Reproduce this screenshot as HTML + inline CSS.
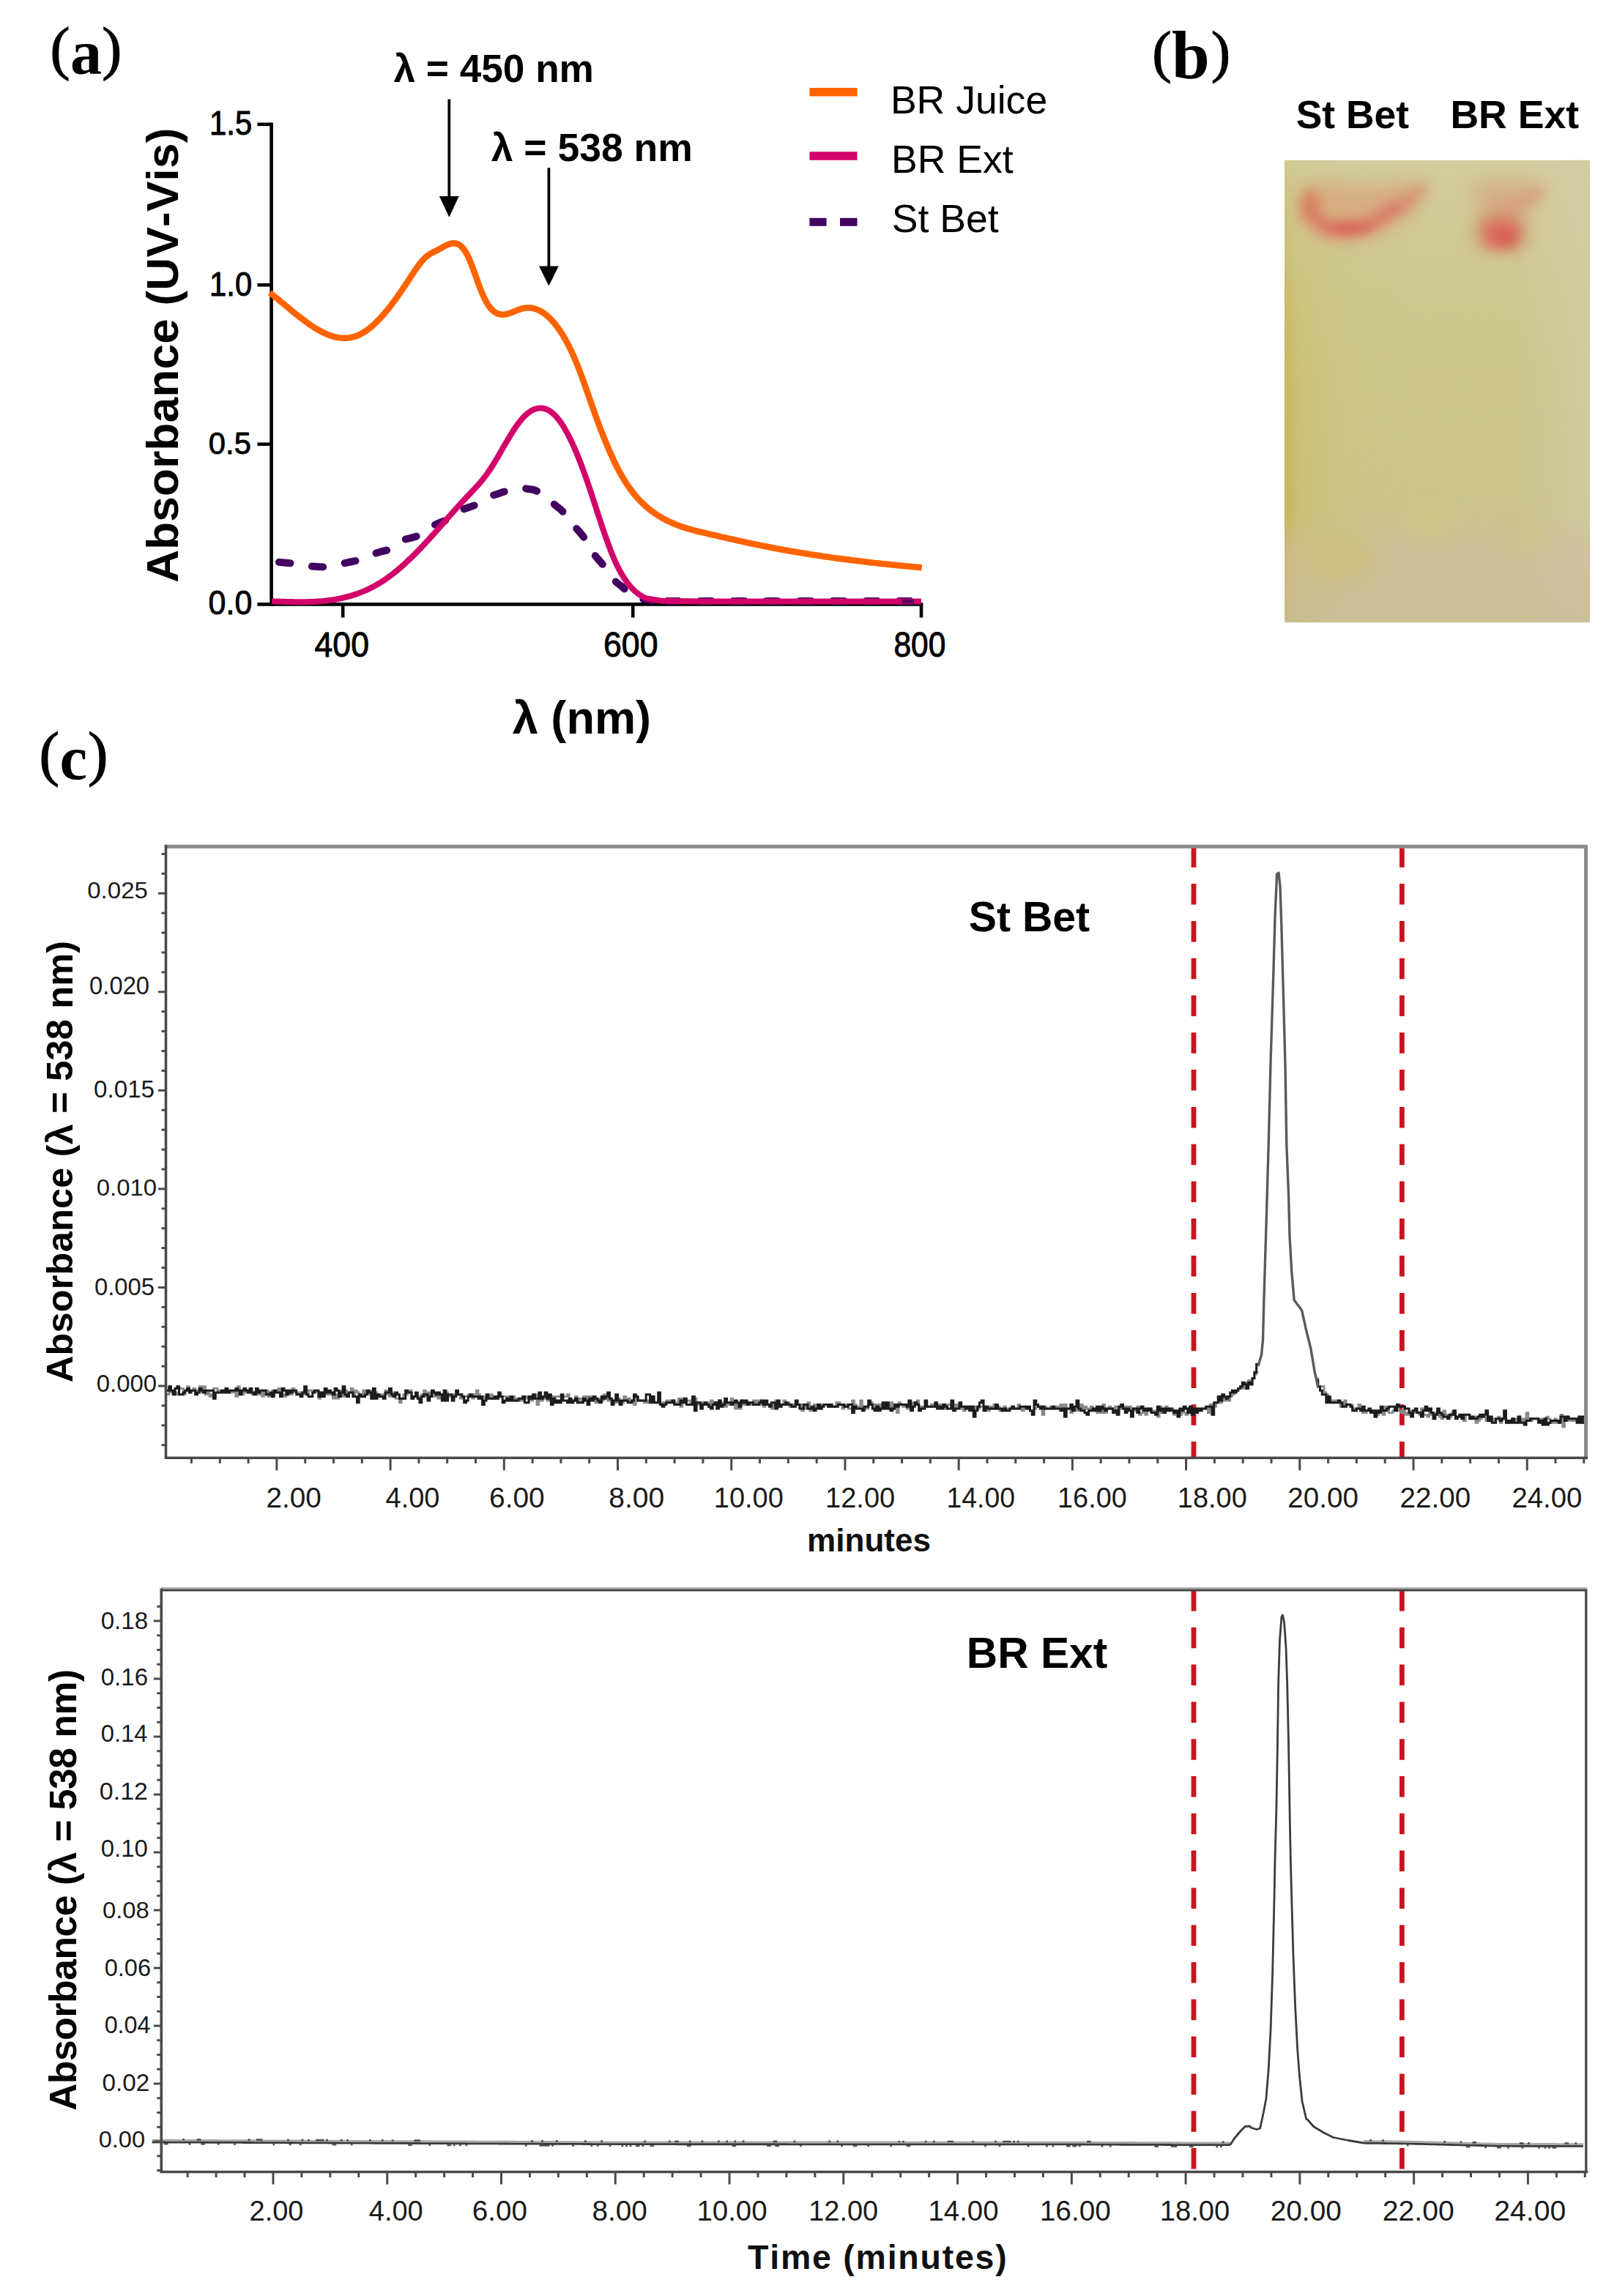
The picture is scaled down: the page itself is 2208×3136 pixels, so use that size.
<!DOCTYPE html>
<html><head><meta charset="utf-8"><title>Figure</title>
<style>
html,body{margin:0;padding:0;background:#fff;}
body{width:2208px;height:3136px;overflow:hidden;}
svg{display:block;font-kerning:none;}
text{font-kerning:none;}
</style></head>
<body>
<svg width="2208" height="3136" viewBox="0 0 2208 3136">
<rect width="2208" height="3136" fill="#fff"/>
<g id="panelA">
<text x="68.51" y="93.02" font-family="'Liberation Serif', 'Times New Roman', serif" font-weight="normal" font-size="81.17" fill="#000" stroke="#000" stroke-width="1.2">(</text>
<text x="96.07" y="100.7" font-family="'Liberation Serif', 'Times New Roman', serif" font-weight="bold" font-size="86.19" fill="#000">a</text>
<text x="139.31" y="93.02" font-family="'Liberation Serif', 'Times New Roman', serif" font-weight="normal" font-size="81.17" fill="#000" stroke="#000" stroke-width="1.2">)</text>
<g stroke="#000" stroke-width="4.6" fill="none" stroke-linecap="butt">
<path d="M370.6,167.5 V827.7"/>
<path d="M351.5,825.4 H1260.3"/>
<path d="M351.5,169.8 H370"/>
<path d="M351.5,389.2 H370"/>
<path d="M351.5,606.7 H370"/>
<path d="M468.2,825 V843.5"/>
<path d="M864.2,825 V843.5"/>
<path d="M1258,825 V843.5"/>
</g>
<path d="M372,767 C375.17,767.28 385.73,768.2 391,768.7 C396.27,769.2 398.57,769.28 403.6,770 C408.63,770.72 416.13,772.33 421.2,773 C426.27,773.67 429.67,773.83 434,774 C438.33,774.17 441.9,774.62 447.2,774 C452.5,773.38 460.67,771.38 465.8,770.3 C470.93,769.22 473.83,768.43 478,767.5 C482.17,766.57 485.73,766.4 490.8,764.7 C495.87,763 503.53,759.17 508.4,757.3 C513.27,755.43 515.98,754.73 520,753.5 C524.02,752.27 527.78,752.37 532.5,749.9 C537.22,747.43 543.72,741.18 548.3,738.7 C552.88,736.22 556.13,736.23 560,735 C563.87,733.77 566.65,733.92 571.5,731.3 C576.35,728.68 584.35,722.18 589.1,719.3 C593.85,716.42 596.13,715.7 600,714 C603.87,712.3 607.42,711.85 612.3,709.1 C617.18,706.35 624.68,700.18 629.3,697.5 C633.92,694.82 636.43,694.42 640,693 C643.57,691.58 645.93,691.43 650.7,689 C655.47,686.57 663.72,680.82 668.6,678.4 C673.48,675.98 676.28,675.73 680,674.5 C683.72,673.27 685.68,672.2 690.9,671 C696.12,669.8 706.12,667.8 711.3,667.3 C716.48,666.8 718.28,667.38 722,668 C725.72,668.62 728.77,668.33 733.6,671 C738.43,673.67 746.6,680.58 751,684 C755.4,687.42 757,688.95 760,691.5 C763,694.05 765,694.88 769,699.3 C773,703.72 779.17,712.05 784,718 C788.83,723.95 793.55,728.63 798,735 C802.45,741.37 807.28,751.08 810.7,756.2 C814.12,761.32 815.88,762.53 818.5,765.7 C821.12,768.87 822.93,770.67 826.4,775.2 C829.87,779.73 835.53,788.6 839.3,792.9 C843.07,797.2 845.82,798.27 849,801 C852.18,803.73 854.57,806.72 858.4,809.3 C862.23,811.88 866.73,814.72 872,816.5 C877.27,818.28 882,819.25 890,820 C898,820.75 858.67,820.83 920,821 C981.33,821.17 1201.67,821 1258,821" fill="none" stroke="#42005F" stroke-width="10" stroke-dasharray="15.5 29.7" stroke-dashoffset="36.2" stroke-linecap="round"/>
<path d="M371.1,821.25 L373.1,821.31 L375.1,821.38 L377.1,821.45 L379.1,821.51 L381.1,821.58 L383.1,821.65 L385.1,821.71 L387.1,821.78 L389.1,821.84 L391.1,821.9 L393.1,821.95 L395.1,822 L397.1,822.05 L399.1,822.09 L401.1,822.13 L403.1,822.16 L405.1,822.19 L407.1,822.21 L409.1,822.22 L411.1,822.22 L413.1,822.21 L415.1,822.2 L417.1,822.18 L419.1,822.14 L421.1,822.1 L423.1,822.04 L425.1,821.97 L427.1,821.89 L429.1,821.8 L431.1,821.69 L433.1,821.57 L435.1,821.44 L437.1,821.29 L439.1,821.13 L441.1,820.95 L443.1,820.75 L445.1,820.54 L447.1,820.31 L449.1,820.06 L451.1,819.79 L453.1,819.5 L455.1,819.2 L457.1,818.87 L459.1,818.52 L461.1,818.16 L463.1,817.77 L465.1,817.36 L467.1,816.92 L469.1,816.46 L471.1,815.98 L473.1,815.48 L475.1,814.94 L477.1,814.39 L479.1,813.81 L481.1,813.2 L483.1,812.56 L485.1,811.9 L487.1,811.21 L489.1,810.49 L491.1,809.74 L493.1,808.96 L495.1,808.15 L497.1,807.32 L499.1,806.45 L501.1,805.54 L503.1,804.61 L505.1,803.64 L507.1,802.64 L509.1,801.61 L511.1,800.54 L513.1,799.44 L515.1,798.3 L517.1,797.12 L519.1,795.91 L521.1,794.67 L523.1,793.38 L525.1,792.06 L527.1,790.69 L529.1,789.29 L531.1,787.85 L533.1,786.37 L535.1,784.86 L537.1,783.3 L539.1,781.71 L541.1,780.08 L543.1,778.42 L545.1,776.73 L547.1,775 L549.1,773.24 L551.1,771.45 L553.1,769.63 L555.1,767.78 L557.1,765.91 L559.1,764 L561.1,762.07 L563.1,760.12 L565.1,758.14 L567.1,756.13 L569.1,754.11 L571.1,752.06 L573.1,749.99 L575.1,747.9 L577.1,745.79 L579.1,743.67 L581.1,741.52 L583.1,739.36 L585.1,737.19 L587.1,735 L589.1,732.79 L591.1,730.58 L593.1,728.35 L595.1,726.11 L597.1,723.86 L599.1,721.6 L601.1,719.34 L603.1,717.06 L605.1,714.78 L607.1,712.5 L609.1,710.21 L611.1,707.92 L613.1,705.64 L615.1,703.35 L617.1,701.08 L619.1,698.81 L621.1,696.55 L623.1,694.31 L625.1,692.08 L627.1,689.87 L629.1,687.67 L631.1,685.5 L633.1,683.35 L635.1,681.22 L637.1,679.12 L639.1,677.04 L641.1,674.96 L643.1,672.87 L645.1,670.78 L647.1,668.66 L649.1,666.51 L651.1,664.32 L653.1,662.08 L655.1,659.79 L657.1,657.42 L659.1,654.98 L661.1,652.45 L663.1,649.82 L665.1,647.09 L667.1,644.24 L669.1,641.28 L671.1,638.21 L673.1,635.04 L675.1,631.79 L677.1,628.47 L679.1,625.1 L681.1,621.69 L683.1,618.24 L685.1,614.78 L687.1,611.31 L689.1,607.85 L691.1,604.42 L693.1,601.02 L695.1,597.66 L697.1,594.37 L699.1,591.16 L701.1,588.02 L703.1,584.99 L705.1,582.08 L707.1,579.28 L709.1,576.63 L711.1,574.13 L713.1,571.79 L715.1,569.62 L717.1,567.62 L719.1,565.79 L721.1,564.13 L723.1,562.65 L725.1,561.35 L727.1,560.23 L729.1,559.3 L731.1,558.55 L733.1,557.98 L735.1,557.61 L737.1,557.42 L739.1,557.43 L741.1,557.64 L743.1,558.04 L745.1,558.64 L747.1,559.44 L749.1,560.45 L751.1,561.67 L753.1,563.09 L755.1,564.72 L757.1,566.57 L759.1,568.63 L761.1,570.91 L763.1,573.4 L765.1,576.1 L767.1,579 L769.1,582.11 L771.1,585.41 L773.1,588.9 L775.1,592.58 L777.1,596.44 L779.1,600.47 L781.1,604.68 L783.1,609.06 L785.1,613.6 L787.1,618.3 L789.1,623.15 L791.1,628.16 L793.1,633.31 L795.1,638.6 L797.1,644.02 L799.1,649.58 L801.1,655.26 L803.1,661.06 L805.1,666.97 L807.1,672.97 L809.1,679.04 L811.1,685.18 L813.1,691.36 L815.1,697.55 L817.1,703.72 L819.1,709.85 L821.1,715.92 L823.1,721.91 L825.1,727.8 L827.1,733.57 L829.1,739.21 L831.1,744.69 L833.1,749.99 L835.1,755.09 L837.1,759.98 L839.1,764.64 L841.1,769.05 L843.1,773.23 L845.1,777.18 L847.1,780.92 L849.1,784.43 L851.1,787.74 L853.1,790.85 L855.1,793.76 L857.1,796.48 L859.1,799.02 L861.1,801.38 L863.1,803.57 L865.1,805.6 L867.1,807.47 L869.1,809.18 L871.1,810.76 L873.1,812.19 L875.1,813.49 L877.1,814.67 L879.1,815.73 L881.1,816.67 L882.9,817.43 L903.3,820.8 L960,821.5 L1258,821.5" fill="none" stroke="#D2036B" stroke-width="8" stroke-linejoin="round"/>
<path d="M1232,821.5 H1257" fill="none" stroke="#42005F" stroke-width="6" stroke-dasharray="16 12" opacity="0.8"/>
<path d="M368.3,399.76 L370.3,401.32 L372.3,402.9 L374.3,404.5 L376.3,406.12 L378.3,407.75 L380.3,409.39 L382.3,411.04 L384.3,412.69 L386.3,414.35 L388.3,416.01 L390.3,417.68 L392.3,419.34 L394.3,421 L396.3,422.66 L398.3,424.3 L400.3,425.94 L402.3,427.57 L404.3,429.18 L406.3,430.78 L408.3,432.36 L410.3,433.93 L412.3,435.47 L414.3,436.99 L416.3,438.48 L418.3,439.94 L420.3,441.38 L422.3,442.78 L424.3,444.15 L426.3,445.49 L428.3,446.78 L430.3,448.04 L432.3,449.26 L434.3,450.43 L436.3,451.56 L438.3,452.64 L440.3,453.67 L442.3,454.64 L444.3,455.57 L446.3,456.44 L448.3,457.25 L450.3,458 L452.3,458.69 L454.3,459.31 L456.3,459.87 L458.3,460.36 L460.3,460.78 L462.3,461.13 L464.3,461.41 L466.3,461.61 L468.3,461.73 L470.3,461.77 L472.3,461.73 L474.3,461.61 L476.3,461.4 L478.3,461.1 L480.3,460.71 L482.3,460.23 L484.3,459.65 L486.3,458.98 L488.3,458.21 L490.3,457.34 L492.3,456.37 L494.3,455.3 L496.3,454.13 L498.3,452.87 L500.3,451.52 L502.3,450.07 L504.3,448.54 L506.3,446.92 L508.3,445.22 L510.3,443.43 L512.3,441.57 L514.3,439.63 L516.3,437.62 L518.3,435.53 L520.3,433.37 L522.3,431.15 L524.3,428.86 L526.3,426.5 L528.3,424.09 L530.3,421.61 L532.3,419.08 L534.3,416.49 L536.3,413.86 L538.3,411.17 L540.3,408.43 L542.3,405.65 L544.3,402.82 L546.3,399.96 L548.3,397.05 L550.3,394.11 L552.3,391.13 L554.3,388.12 L556.3,385.08 L558.3,382.02 L560.3,378.94 L562.3,375.88 L564.3,372.84 L566.3,369.86 L568.3,366.95 L570.3,364.13 L572.3,361.43 L574.3,358.87 L576.3,356.46 L578.3,354.23 L580.3,352.2 L582.3,350.39 L584.3,348.81 L586.3,347.44 L588.3,346.23 L590.3,345.14 L592.3,344.13 L594.3,343.15 L596.3,342.16 L598.3,341.11 L600.3,340.01 L602.3,338.86 L604.3,337.71 L606.3,336.59 L608.3,335.53 L610.3,334.57 L612.3,333.72 L614.3,333.04 L616.3,332.54 L618.3,332.26 L620.3,332.23 L622.3,332.49 L624.3,333.06 L626.3,333.98 L628.3,335.29 L630.3,337 L632.3,339.15 L634.3,341.79 L636.3,344.93 L638.3,348.6 L640.3,352.83 L642.3,357.54 L644.3,362.61 L646.3,367.97 L648.3,373.5 L650.3,379.11 L652.3,384.71 L654.3,390.19 L656.3,395.46 L658.3,400.41 L660.3,404.97 L662.3,409.1 L664.3,412.82 L666.3,416.12 L668.3,419.01 L670.3,421.5 L672.3,423.6 L674.3,425.36 L676.3,426.78 L678.3,427.88 L680.3,428.71 L682.3,429.26 L684.3,429.58 L686.3,429.68 L688.3,429.59 L690.3,429.32 L692.3,428.91 L694.3,428.37 L696.3,427.73 L698.3,427.01 L700.3,426.23 L702.3,425.42 L704.3,424.6 L706.3,423.8 L708.3,423.03 L710.3,422.33 L712.3,421.7 L714.3,421.18 L716.3,420.79 L718.3,420.53 L720.3,420.39 L722.3,420.39 L724.3,420.51 L726.3,420.77 L728.3,421.15 L730.3,421.67 L732.3,422.32 L734.3,423.11 L736.3,424.02 L738.3,425.08 L740.3,426.26 L742.3,427.58 L744.3,429.04 L746.3,430.63 L748.3,432.36 L750.3,434.22 L752.3,436.22 L754.3,438.37 L756.3,440.65 L758.3,443.07 L760.3,445.65 L762.3,448.37 L764.3,451.24 L766.3,454.27 L768.3,457.45 L770.3,460.79 L772.3,464.3 L774.3,467.96 L776.3,471.8 L778.3,475.8 L780.3,479.97 L782.3,484.32 L784.3,488.84 L786.3,493.54 L788.3,498.42 L790.3,503.48 L792.3,508.7 L794.3,514.07 L796.3,519.55 L798.3,525.13 L800.3,530.78 L802.3,536.49 L804.3,542.22 L806.3,547.96 L808.3,553.69 L810.3,559.38 L812.3,565.02 L814.3,570.57 L816.3,576.03 L818.3,581.39 L820.3,586.66 L822.3,591.82 L824.3,596.88 L826.3,601.83 L828.3,606.68 L830.3,611.41 L832.3,616.03 L834.3,620.54 L836.3,624.92 L838.3,629.19 L840.3,633.33 L842.3,637.34 L844.3,641.23 L846.3,644.99 L848.3,648.61 L850.3,652.09 L852.3,655.44 L854.3,658.66 L856.3,661.74 L858.3,664.7 L860.3,667.53 L862.3,670.25 L864.3,672.85 L866.3,675.35 L868.3,677.74 L870.3,680.02 L872.3,682.22 L874.3,684.32 L876.3,686.33 L878.3,688.26 L880.3,690.11 L882.3,691.88 L884.3,693.59 L886.3,695.22 L888.3,696.8 L890.3,698.32 L892.3,699.78 L894.3,701.19 L896.3,702.55 L898.3,703.85 L900.3,705.11 L902.3,706.32 L904.3,707.49 L906.3,708.61 L908.3,709.69 L910.3,710.73 L912.3,711.72 L914.3,712.68 L916.3,713.6 L918.3,714.49 L920.3,715.34 L922.3,716.16 L924.3,716.95 L926.3,717.71 L928.3,718.44 L930.3,719.14 L932.3,719.82 L934.3,720.48 L936.3,721.11 L938.3,721.72 L940.3,722.31 L942.3,722.88 L944.3,723.44 L946.3,723.98 L948.3,724.51 L950.3,725.03 L952.3,725.53 L954.3,726.03 L956.3,726.51 L958.3,727 L960.3,727.47 L962.3,727.95 L964.3,728.42 L966.3,728.89 L968.3,729.36 L970.3,729.83 L972.3,730.3 L974.3,730.76 L976.3,731.23 L978.3,731.69 L980.3,732.16 L982.3,732.62 L984.3,733.08 L986.3,733.54 L988.3,734 L990.3,734.46 L992.3,734.91 L994.3,735.37 L996.3,735.82 L998.3,736.27 L1000.3,736.72 L1002.3,737.17 L1004.3,737.61 L1006.3,738.06 L1008.3,738.5 L1010.3,738.94 L1012.3,739.38 L1014.3,739.82 L1016.3,740.25 L1018.3,740.68 L1020.3,741.12 L1022.3,741.54 L1024.3,741.97 L1026.3,742.39 L1028.3,742.82 L1030.3,743.24 L1032.3,743.65 L1034.3,744.07 L1036.3,744.48 L1038.3,744.89 L1040.3,745.3 L1042.3,745.7 L1044.3,746.1 L1046.3,746.5 L1048.3,746.9 L1050.3,747.29 L1052.3,747.68 L1054.3,748.07 L1056.3,748.45 L1058.3,748.83 L1060.3,749.21 L1062.3,749.59 L1064.3,749.96 L1066.3,750.33 L1068.3,750.7 L1070.3,751.06 L1072.3,751.43 L1074.3,751.78 L1076.3,752.14 L1078.3,752.49 L1080.3,752.84 L1082.3,753.19 L1084.3,753.54 L1086.3,753.88 L1088.3,754.22 L1090.3,754.56 L1092.3,754.89 L1094.3,755.22 L1096.3,755.55 L1098.3,755.88 L1100.3,756.21 L1102.3,756.53 L1104.3,756.85 L1106.3,757.16 L1108.3,757.48 L1110.3,757.79 L1112.3,758.1 L1114.3,758.41 L1116.3,758.71 L1118.3,759.01 L1120.3,759.31 L1122.3,759.61 L1124.3,759.9 L1126.3,760.2 L1128.3,760.49 L1130.3,760.78 L1132.3,761.06 L1134.3,761.34 L1136.3,761.63 L1138.3,761.9 L1140.3,762.18 L1142.3,762.46 L1144.3,762.73 L1146.3,763 L1148.3,763.27 L1150.3,763.53 L1152.3,763.8 L1154.3,764.06 L1156.3,764.32 L1158.3,764.57 L1160.3,764.83 L1162.3,765.08 L1164.3,765.34 L1166.3,765.58 L1168.3,765.83 L1170.3,766.08 L1172.3,766.32 L1174.3,766.56 L1176.3,766.8 L1178.3,767.04 L1180.3,767.28 L1182.3,767.51 L1184.3,767.74 L1186.3,767.97 L1188.3,768.2 L1190.3,768.43 L1192.3,768.65 L1194.3,768.88 L1196.3,769.1 L1198.3,769.32 L1200.3,769.54 L1202.3,769.75 L1204.3,769.97 L1206.3,770.18 L1208.3,770.39 L1210.3,770.6 L1212.3,770.81 L1214.3,771.02 L1216.3,771.22 L1218.3,771.42 L1220.3,771.63 L1222.3,771.83 L1224.3,772.02 L1226.3,772.22 L1228.3,772.42 L1230.3,772.61 L1232.3,772.81 L1234.3,773 L1236.3,773.19 L1238.3,773.38 L1240.3,773.56 L1242.3,773.75 L1244.3,773.93 L1246.3,774.12 L1248.3,774.3 L1250.3,774.48 L1252.3,774.66 L1254.3,774.84 L1256.3,775.01 L1258.3,775.19 L1258.8,775.23" fill="none" stroke="#FF6300" stroke-width="8.5" stroke-linejoin="round"/>
<g fill="#000" stroke="none">
<rect x="611.4" y="135.6" width="3.8" height="135"/>
<path d="M599.9,268 L626.7,268 L613.3,296.7 Z"/>
<rect x="747.5" y="229.3" width="3.8" height="136"/>
<path d="M736,363.4 L762.8,363.4 L749.4,390.6 Z"/>
</g>
<text x="537.47" y="111.64" font-family="'Liberation Sans', Arial, sans-serif" font-weight="bold" font-size="53.18" fill="#000">λ = 450 nm</text>
<text x="670.76" y="219.58" font-family="'Liberation Sans', Arial, sans-serif" font-weight="bold" font-size="53.51" fill="#000">λ = 538 nm</text>
<path d="M1105.4,125.7 H1170.5" stroke="#FF6300" stroke-width="11.5"/>
<path d="M1105.4,212.9 H1170.5" stroke="#D2036B" stroke-width="11.5"/>
<path d="M1105.4,303.2 H1128.6 M1147,303.2 H1170.5" stroke="#42005F" stroke-width="11"/>
<text x="1215.91" y="154.6" font-family="'Liberation Sans', Arial, sans-serif" font-weight="normal" font-size="53.55" fill="#000">BR Juice</text>
<text x="1217.11" y="236.2" font-family="'Liberation Sans', Arial, sans-serif" font-weight="normal" font-size="53.55" fill="#000">BR Ext</text>
<text x="1217.87" y="316.8" font-family="'Liberation Sans', Arial, sans-serif" font-weight="normal" font-size="53.55" fill="#000">St Bet</text>
<text transform="translate(286.11,183.95) scale(1,1.1034)" font-family="'Liberation Sans', Arial, sans-serif" font-weight="normal" font-size="41.82" fill="#000" stroke="#000" stroke-width="0.9">1.5</text>
<text transform="translate(286.12,403.55) scale(1,1.0933)" font-family="'Liberation Sans', Arial, sans-serif" font-weight="normal" font-size="41.73" fill="#000" stroke="#000" stroke-width="0.9">1.0</text>
<text transform="translate(284.87,620.28) scale(1,1.0328)" font-family="'Liberation Sans', Arial, sans-serif" font-weight="normal" font-size="41.71" fill="#000" stroke="#000" stroke-width="0.9">0.5</text>
<text transform="translate(284.62,838.75) scale(1,1.0645)" font-family="'Liberation Sans', Arial, sans-serif" font-weight="normal" font-size="42.99" fill="#000" stroke="#000" stroke-width="0.9">0.0</text>
<text transform="translate(429.58,897.23) scale(1,1.0743)" font-family="'Liberation Sans', Arial, sans-serif" font-weight="normal" font-size="44.57" fill="#000" stroke="#000" stroke-width="0.9">400</text>
<text transform="translate(824.04,897.23) scale(1,1.0737)" font-family="'Liberation Sans', Arial, sans-serif" font-weight="normal" font-size="44.6" fill="#000" stroke="#000" stroke-width="0.9">600</text>
<text transform="translate(1220.45,897.23) scale(1,1.1266)" font-family="'Liberation Sans', Arial, sans-serif" font-weight="normal" font-size="42.5" fill="#000" stroke="#000" stroke-width="0.9">800</text>
<text transform="translate(242.5,794.3) rotate(-90)" x="-1.54" y="0" font-family="'Liberation Sans', Arial, sans-serif" font-weight="bold" font-size="62" letter-spacing="0.25" fill="#000">Absorbance (UV-Vis)</text>
<text x="699.72" y="1001.64" font-family="'Liberation Sans', Arial, sans-serif" font-weight="bold" font-size="63.14" fill="#000">λ (nm)</text>
</g>
<g id="panelB">
<text x="1573.18" y="97.12" font-family="'Liberation Serif', 'Times New Roman', serif" font-weight="normal" font-size="79.3" fill="#000" stroke="#000" stroke-width="1.2">(</text>
<text x="1599.89" y="106.71" font-family="'Liberation Serif', 'Times New Roman', serif" font-weight="bold" font-size="93.16" fill="#000">b</text>
<text x="1653.71" y="97.12" font-family="'Liberation Serif', 'Times New Roman', serif" font-weight="normal" font-size="79.3" fill="#000" stroke="#000" stroke-width="1.2">)</text>
<text x="1769.76" y="175" font-family="'Liberation Sans', Arial, sans-serif" font-weight="bold" font-size="53.4" fill="#000">St Bet</text>
<text x="1980.41" y="175" font-family="'Liberation Sans', Arial, sans-serif" font-weight="bold" font-size="53.61" fill="#000">BR Ext</text>
<defs>
<linearGradient id="tlcV" x1="0" y1="0" x2="0" y2="1"><stop offset="0" stop-color="#D3CC9D"/><stop offset="0.1" stop-color="#D1CA97"/><stop offset="0.45" stop-color="#CDC58B"/><stop offset="0.7" stop-color="#CCC38B"/><stop offset="1" stop-color="#CBC093"/></linearGradient>
<linearGradient id="tlcL" x1="0" y1="0" x2="1" y2="0"><stop offset="0" stop-color="#C4B555" stop-opacity="0.9"/><stop offset="0.05" stop-color="#C8BC62" stop-opacity="0.6"/><stop offset="0.22" stop-color="#CCC27C" stop-opacity="0.25"/><stop offset="0.4" stop-color="#CCC27C" stop-opacity="0"/><stop offset="1" stop-color="#CCC27C" stop-opacity="0"/></linearGradient>
<linearGradient id="tlcLm" x1="0" y1="0" x2="0" y2="1"><stop offset="0" stop-color="#fff" stop-opacity="0.15"/><stop offset="0.3" stop-color="#fff" stop-opacity="0.7"/><stop offset="0.75" stop-color="#fff" stop-opacity="1"/><stop offset="1" stop-color="#fff" stop-opacity="0.8"/></linearGradient>
<mask id="tlcMask" maskContentUnits="userSpaceOnUse"><rect x="1754" y="218" width="420" height="633" fill="url(#tlcLm)"/></mask>
<linearGradient id="tlcR" x1="0" y1="0" x2="1" y2="0"><stop offset="0" stop-color="#D6CDAA" stop-opacity="0"/><stop offset="0.75" stop-color="#D6CDAA" stop-opacity="0"/><stop offset="1" stop-color="#D6CCAC" stop-opacity="0.6"/></linearGradient>
<linearGradient id="tlcB" x1="0" y1="0" x2="0" y2="1"><stop offset="0" stop-color="#CDBC9E" stop-opacity="0"/><stop offset="0.76" stop-color="#CDBC9E" stop-opacity="0"/><stop offset="0.84" stop-color="#CDBC9E" stop-opacity="0.5"/><stop offset="1" stop-color="#CBBC98" stop-opacity="0.75"/></linearGradient>
<filter id="blur8" x="-50%" y="-50%" width="200%" height="200%"><feGaussianBlur stdDeviation="8"/></filter>
<filter id="blur5" x="-50%" y="-50%" width="200%" height="200%"><feGaussianBlur stdDeviation="5"/></filter>
<filter id="blur12" x="-50%" y="-50%" width="200%" height="200%"><feGaussianBlur stdDeviation="12"/></filter>
<clipPath id="tlcClip"><rect x="1754" y="218.6" width="417.3000000000002" height="631.6999999999999"/></clipPath>
</defs>
<g clip-path="url(#tlcClip)">
<rect x="1754" y="218.6" width="417.3000000000002" height="631.6999999999999" fill="url(#tlcV)"/>
<rect x="1754" y="218.6" width="417.3000000000002" height="631.6999999999999" fill="url(#tlcL)" mask="url(#tlcMask)"/>
<rect x="1754" y="218.6" width="417.3000000000002" height="631.6999999999999" fill="url(#tlcR)"/>
<rect x="1754" y="218.6" width="417.3000000000002" height="631.6999999999999" fill="url(#tlcB)"/>
<g filter="url(#blur12)" opacity="0.55">
<ellipse cx="1830" cy="760" rx="45" ry="35" fill="#CBC070"/>
<ellipse cx="1950" cy="715" rx="40" ry="18" fill="#CFC680"/>
<ellipse cx="2085" cy="735" rx="25" ry="18" fill="#CFC680"/>
</g>
<g filter="url(#blur12)">
<path d="M1776,262 C1795,246 1830,250 1865,256 C1895,252 1925,244 1946,252 C1950,272 1925,296 1890,316 C1860,330 1815,334 1795,324 C1780,306 1770,282 1776,262 Z" fill="#D8A87E" opacity="0.85"/>
<path d="M2006,252 C2040,246 2080,244 2104,252 C2108,272 2090,290 2070,296 C2040,300 2012,286 2006,252 Z" fill="#D6AA84" opacity="0.8"/>
<rect x="2014" y="287" width="72" height="56" rx="24" fill="#D4946E" opacity="0.9"/>
</g>
<g filter="url(#blur8)">
<ellipse cx="1789" cy="282" rx="13" ry="23" fill="#DA805E"/>
<path d="M1798,300 C1810,314 1830,316 1850,313 C1870,310 1885,298 1900,288 C1910,282 1915,279 1920,277" fill="none" stroke="#DA7664" stroke-width="17" stroke-linecap="round"/>
<ellipse cx="1843" cy="311" rx="31" ry="9" fill="#DC5D56"/>
<ellipse cx="1902" cy="281" rx="14" ry="6" fill="#D27A6A" transform="rotate(-18 1902 281)"/>
<path d="M1912,280 C1924,272 1934,264 1942,258" fill="none" stroke="#D89070" stroke-width="13" stroke-linecap="round" opacity="0.85"/>
<rect x="2027" y="301" width="47" height="37" rx="12" fill="#DA6E60"/>
<ellipse cx="2056" cy="326" rx="13" ry="9" fill="#D8584E"/>
<path d="M2058,286 C2072,279 2088,270 2102,262" fill="none" stroke="#D89A7E" stroke-width="13" stroke-linecap="round" opacity="0.85"/>
</g>
</g>
</g>
<g id="panelC">
<text x="53.42" y="1057.08" font-family="'Liberation Serif', 'Times New Roman', serif" font-weight="normal" font-size="82.27" fill="#000" stroke="#000" stroke-width="1.2">(</text>
<text x="81.43" y="1064.3" font-family="'Liberation Serif', 'Times New Roman', serif" font-weight="bold" font-size="84.85" fill="#000">c</text>
<text x="120.08" y="1057.08" font-family="'Liberation Serif', 'Times New Roman', serif" font-weight="normal" font-size="82.27" fill="#000" stroke="#000" stroke-width="1.2">)</text>
<g>
<path d="M1630,1156.3 V1991.3" stroke="#C8161E" stroke-width="6.8" stroke-dasharray="28.5 22.3"/>
<path d="M1914.4,1156.3 V1991.3" stroke="#C8161E" stroke-width="6.8" stroke-dasharray="28.5 22.3"/>
<defs><filter id="tblur" x="-1%" y="-50%" width="102%" height="200%"><feGaussianBlur stdDeviation="0.7"/></filter></defs>
<path d="M228,1904.7 L230.76,1904.7 L230.76,1896.42 L233.52,1896.42 L233.52,1901.94 L236.28,1901.94 L236.28,1904.7 L239.04,1904.7 L239.04,1901.94 L241.8,1901.94 L241.8,1904.7 L244.56,1904.7 L244.56,1896.42 L247.32,1896.42 L247.32,1896.42 L250.08,1896.42 L250.08,1904.7 L252.84,1904.7 L252.84,1899.18 L255.6,1899.18 L255.6,1893.66 L258.36,1893.66 L258.36,1899.18 L261.12,1899.18 L261.12,1899.18 L263.88,1899.18 L263.88,1896.42 L266.64,1896.42 L266.64,1899.18 L269.4,1899.18 L269.4,1899.18 L272.16,1899.18 L272.16,1893.66 L274.92,1893.66 L274.92,1901.94 L277.68,1901.94 L277.68,1893.66 L280.44,1893.66 L280.44,1904.7 L283.2,1904.7 L283.2,1901.94 L285.96,1901.94 L285.96,1907.46 L288.72,1907.46 L288.72,1904.7 L291.48,1904.7 L291.48,1896.42 L294.24,1896.42 L294.24,1896.42 L297,1896.42 L297,1901.94 L299.76,1901.94 L299.76,1899.18 L302.52,1899.18 L302.52,1899.18 L305.28,1899.18 L305.28,1899.18 L308.04,1899.18 L308.04,1899.18 L310.8,1899.18 L310.8,1901.94 L313.56,1901.94 L313.56,1901.94 L316.32,1901.94 L316.32,1899.18 L319.08,1899.18 L319.08,1901.94 L321.84,1901.94 L321.84,1907.46 L324.6,1907.46 L324.6,1893.66 L327.36,1893.66 L327.36,1899.18 L330.12,1899.18 L330.12,1904.7 L332.88,1904.7 L332.88,1901.94 L335.64,1901.94 L335.64,1899.18 L338.4,1899.18 L338.4,1901.94 L341.16,1901.94 L341.16,1901.94 L343.92,1901.94 L343.92,1904.7 L346.68,1904.7 L346.68,1901.94 L349.44,1901.94 L349.44,1901.94 L352.2,1901.94 L352.2,1904.7 L354.96,1904.7 L354.96,1901.94 L357.72,1901.94 L357.72,1907.46 L360.48,1907.46 L360.48,1899.18 L363.24,1899.18 L363.24,1899.18 L366,1899.18 L366,1907.46 L368.76,1907.46 L368.76,1904.7 L371.52,1904.7 L371.52,1899.18 L374.28,1899.18 L374.28,1899.18 L377.04,1899.18 L377.04,1901.94 L379.8,1901.94 L379.8,1896.42 L382.56,1896.42 L382.56,1901.94 L385.32,1901.94 L385.32,1904.7 L388.08,1904.7 L388.08,1907.46 L390.84,1907.46 L390.84,1901.94 L393.6,1901.94 L393.6,1899.18 L396.36,1899.18 L396.36,1904.7 L399.12,1904.7 L399.12,1896.42 L401.88,1896.42 L401.88,1901.94 L404.64,1901.94 L404.64,1901.94 L407.4,1901.94 L407.4,1904.7 L410.16,1904.7 L410.16,1901.94 L412.92,1901.94 L412.92,1904.7 L415.68,1904.7 L415.68,1899.18 L418.44,1899.18 L418.44,1901.94 L421.2,1901.94 L421.2,1899.18 L423.96,1899.18 L423.96,1899.18 L426.72,1899.18 L426.72,1901.94 L429.48,1901.94 L429.48,1901.94 L432.24,1901.94 L432.24,1901.94 L435,1901.94 L435,1910.22 L437.76,1910.22 L437.76,1901.94 L440.52,1901.94 L440.52,1901.94 L443.28,1901.94 L443.28,1901.94 L446.04,1901.94 L446.04,1904.7 L448.8,1904.7 L448.8,1904.7 L451.56,1904.7 L451.56,1901.94 L454.32,1901.94 L454.32,1910.22 L457.08,1910.22 L457.08,1904.7 L459.84,1904.7 L459.84,1910.22 L462.6,1910.22 L462.6,1901.94 L465.36,1901.94 L465.36,1899.18 L468.12,1899.18 L468.12,1907.46 L470.88,1907.46 L470.88,1899.18 L473.64,1899.18 L473.64,1901.94 L476.4,1901.94 L476.4,1901.94 L479.16,1901.94 L479.16,1896.42 L481.92,1896.42 L481.92,1907.46 L484.68,1907.46 L484.68,1899.18 L487.44,1899.18 L487.44,1901.94 L490.2,1901.94 L490.2,1907.46 L492.96,1907.46 L492.96,1904.7 L495.72,1904.7 L495.72,1899.18 L498.48,1899.18 L498.48,1901.94 L501.24,1901.94 L501.24,1904.7 L504,1904.7 L504,1901.94 L506.76,1901.94 L506.76,1899.18 L509.52,1899.18 L509.52,1904.7 L512.28,1904.7 L512.28,1901.94 L515.04,1901.94 L515.04,1907.46 L517.8,1907.46 L517.8,1904.7 L520.56,1904.7 L520.56,1907.46 L523.32,1907.46 L523.32,1904.7 L526.08,1904.7 L526.08,1899.18 L528.84,1899.18 L528.84,1904.7 L531.6,1904.7 L531.6,1907.46 L534.36,1907.46 L534.36,1901.94 L537.12,1901.94 L537.12,1907.46 L539.88,1907.46 L539.88,1910.22 L542.64,1910.22 L542.64,1910.22 L545.4,1910.22 L545.4,1915.74 L548.16,1915.74 L548.16,1910.22 L550.92,1910.22 L550.92,1904.7 L553.68,1904.7 L553.68,1904.7 L556.44,1904.7 L556.44,1901.94 L559.2,1901.94 L559.2,1899.18 L561.96,1899.18 L561.96,1910.22 L564.72,1910.22 L564.72,1907.46 L567.48,1907.46 L567.48,1904.7 L570.24,1904.7 L570.24,1910.22 L573,1910.22 L573,1907.46 L575.76,1907.46 L575.76,1904.7 L578.52,1904.7 L578.52,1899.18 L581.28,1899.18 L581.28,1907.46 L584.04,1907.46 L584.04,1901.94 L586.8,1901.94 L586.8,1907.46 L589.56,1907.46 L589.56,1901.94 L592.32,1901.94 L592.32,1907.46 L595.08,1907.46 L595.08,1904.7 L597.84,1904.7 L597.84,1910.22 L600.6,1910.22 L600.6,1904.7 L603.36,1904.7 L603.36,1907.46 L606.12,1907.46 L606.12,1904.7 L608.88,1904.7 L608.88,1901.94 L611.64,1901.94 L611.64,1907.46 L614.4,1907.46 L614.4,1907.46 L617.16,1907.46 L617.16,1910.22 L619.92,1910.22 L619.92,1904.7 L622.68,1904.7 L622.68,1904.7 L625.44,1904.7 L625.44,1904.7 L628.2,1904.7 L628.2,1910.22 L630.96,1910.22 L630.96,1910.22 L633.72,1910.22 L633.72,1907.46 L636.48,1907.46 L636.48,1907.46 L639.24,1907.46 L639.24,1904.7 L642,1904.7 L642,1907.46 L644.76,1907.46 L644.76,1910.22 L647.52,1910.22 L647.52,1904.7 L650.28,1904.7 L650.28,1899.18 L653.04,1899.18 L653.04,1904.7 L655.8,1904.7 L655.8,1907.46 L658.56,1907.46 L658.56,1907.46 L661.32,1907.46 L661.32,1910.22 L664.08,1910.22 L664.08,1910.22 L666.84,1910.22 L666.84,1910.22 L669.6,1910.22 L669.6,1904.7 L672.36,1904.7 L672.36,1910.22 L675.12,1910.22 L675.12,1907.46 L677.88,1907.46 L677.88,1907.46 L680.64,1907.46 L680.64,1907.46 L683.4,1907.46 L683.4,1907.46 L686.16,1907.46 L686.16,1907.46 L688.92,1907.46 L688.92,1907.46 L691.68,1907.46 L691.68,1912.98 L694.44,1912.98 L694.44,1907.46 L697.2,1907.46 L697.2,1912.98 L699.96,1912.98 L699.96,1907.46 L702.72,1907.46 L702.72,1912.98 L705.48,1912.98 L705.48,1910.22 L708.24,1910.22 L708.24,1910.22 L711,1910.22 L711,1912.98 L713.76,1912.98 L713.76,1907.46 L716.52,1907.46 L716.52,1907.46 L719.28,1907.46 L719.28,1910.22 L722.04,1910.22 L722.04,1907.46 L724.8,1907.46 L724.8,1912.98 L727.56,1912.98 L727.56,1910.22 L730.32,1910.22 L730.32,1904.7 L733.08,1904.7 L733.08,1918.5 L735.84,1918.5 L735.84,1910.22 L738.6,1910.22 L738.6,1912.98 L741.36,1912.98 L741.36,1910.22 L744.12,1910.22 L744.12,1907.46 L746.88,1907.46 L746.88,1912.98 L749.64,1912.98 L749.64,1910.22 L752.4,1910.22 L752.4,1907.46 L755.16,1907.46 L755.16,1912.98 L757.92,1912.98 L757.92,1907.46 L760.68,1907.46 L760.68,1907.46 L763.44,1907.46 L763.44,1907.46 L766.2,1907.46 L766.2,1907.46 L768.96,1907.46 L768.96,1907.46 L771.72,1907.46 L771.72,1907.46 L774.48,1907.46 L774.48,1904.7 L777.24,1904.7 L777.24,1912.98 L780,1912.98 L780,1915.74 L782.76,1915.74 L782.76,1912.98 L785.52,1912.98 L785.52,1907.46 L788.28,1907.46 L788.28,1915.74 L791.04,1915.74 L791.04,1910.22 L793.8,1910.22 L793.8,1912.98 L796.56,1912.98 L796.56,1907.46 L799.32,1907.46 L799.32,1907.46 L802.08,1907.46 L802.08,1912.98 L804.84,1912.98 L804.84,1907.46 L807.6,1907.46 L807.6,1910.22 L810.36,1910.22 L810.36,1912.98 L813.12,1912.98 L813.12,1915.74 L815.88,1915.74 L815.88,1912.98 L818.64,1912.98 L818.64,1910.22 L821.4,1910.22 L821.4,1912.98 L824.16,1912.98 L824.16,1904.7 L826.92,1904.7 L826.92,1910.22 L829.68,1910.22 L829.68,1912.98 L832.44,1912.98 L832.44,1910.22 L835.2,1910.22 L835.2,1912.98 L837.96,1912.98 L837.96,1915.74 L840.72,1915.74 L840.72,1915.74 L843.48,1915.74 L843.48,1910.22 L846.24,1910.22 L846.24,1915.74 L849,1915.74 L849,1915.74 L851.76,1915.74 L851.76,1907.46 L854.52,1907.46 L854.52,1912.98 L857.28,1912.98 L857.28,1910.22 L860.04,1910.22 L860.04,1912.98 L862.8,1912.98 L862.8,1912.98 L865.56,1912.98 L865.56,1918.5 L868.32,1918.5 L868.32,1910.22 L871.08,1910.22 L871.08,1912.98 L873.84,1912.98 L873.84,1912.98 L876.6,1912.98 L876.6,1912.98 L879.36,1912.98 L879.36,1915.74 L882.12,1915.74 L882.12,1912.98 L884.88,1912.98 L884.88,1915.74 L887.64,1915.74 L887.64,1910.22 L890.4,1910.22 L890.4,1912.98 L893.16,1912.98 L893.16,1915.74 L895.92,1915.74 L895.92,1915.74 L898.68,1915.74 L898.68,1910.22 L901.44,1910.22 L901.44,1915.74 L904.2,1915.74 L904.2,1915.74 L906.96,1915.74 L906.96,1915.74 L909.72,1915.74 L909.72,1912.98 L912.48,1912.98 L912.48,1915.74 L915.24,1915.74 L915.24,1912.98 L918,1912.98 L918,1912.98 L920.76,1912.98 L920.76,1915.74 L923.52,1915.74 L923.52,1915.74 L926.28,1915.74 L926.28,1910.22 L929.04,1910.22 L929.04,1921.26 L931.8,1921.26 L931.8,1910.22 L934.56,1910.22 L934.56,1915.74 L937.32,1915.74 L937.32,1912.98 L940.08,1912.98 L940.08,1912.98 L942.84,1912.98 L942.84,1915.74 L945.6,1915.74 L945.6,1915.74 L948.36,1915.74 L948.36,1910.22 L951.12,1910.22 L951.12,1918.5 L953.88,1918.5 L953.88,1915.74 L956.64,1915.74 L956.64,1915.74 L959.4,1915.74 L959.4,1915.74 L962.16,1915.74 L962.16,1918.5 L964.92,1918.5 L964.92,1915.74 L967.68,1915.74 L967.68,1921.26 L970.44,1921.26 L970.44,1912.98 L973.2,1912.98 L973.2,1915.74 L975.96,1915.74 L975.96,1915.74 L978.72,1915.74 L978.72,1915.74 L981.48,1915.74 L981.48,1912.98 L984.24,1912.98 L984.24,1918.5 L987,1918.5 L987,1915.74 L989.76,1915.74 L989.76,1921.26 L992.52,1921.26 L992.52,1918.5 L995.28,1918.5 L995.28,1915.74 L998.04,1915.74 L998.04,1910.22 L1000.8,1910.22 L1000.8,1918.5 L1003.56,1918.5 L1003.56,1924.02 L1006.32,1924.02 L1006.32,1918.5 L1009.08,1918.5 L1009.08,1924.02 L1011.84,1924.02 L1011.84,1912.98 L1014.6,1912.98 L1014.6,1918.5 L1017.36,1918.5 L1017.36,1918.5 L1020.12,1918.5 L1020.12,1915.74 L1022.88,1915.74 L1022.88,1918.5 L1025.64,1918.5 L1025.64,1918.5 L1028.4,1918.5 L1028.4,1912.98 L1031.16,1912.98 L1031.16,1918.5 L1033.92,1918.5 L1033.92,1912.98 L1036.68,1912.98 L1036.68,1912.98 L1039.44,1912.98 L1039.44,1918.5 L1042.2,1918.5 L1042.2,1921.26 L1044.96,1921.26 L1044.96,1915.74 L1047.72,1915.74 L1047.72,1918.5 L1050.48,1918.5 L1050.48,1918.5 L1053.24,1918.5 L1053.24,1924.02 L1056,1924.02 L1056,1918.5 L1058.76,1918.5 L1058.76,1912.98 L1061.52,1912.98 L1061.52,1918.5 L1064.28,1918.5 L1064.28,1921.26 L1067.04,1921.26 L1067.04,1918.5 L1069.8,1918.5 L1069.8,1912.98 L1072.56,1912.98 L1072.56,1918.5 L1075.32,1918.5 L1075.32,1915.74 L1078.08,1915.74 L1078.08,1921.26 L1080.84,1921.26 L1080.84,1921.26 L1083.6,1921.26 L1083.6,1918.5 L1086.36,1918.5 L1086.36,1918.5 L1089.12,1918.5 L1089.12,1918.5 L1091.88,1918.5 L1091.88,1918.5 L1094.64,1918.5 L1094.64,1926.78 L1097.4,1926.78 L1097.4,1921.26 L1100.16,1921.26 L1100.16,1924.02 L1102.92,1924.02 L1102.92,1915.74 L1105.68,1915.74 L1105.68,1926.78 L1108.44,1926.78 L1108.44,1924.02 L1111.2,1924.02 L1111.2,1918.5 L1113.96,1918.5 L1113.96,1921.26 L1116.72,1921.26 L1116.72,1918.5 L1119.48,1918.5 L1119.48,1924.02 L1122.24,1924.02 L1122.24,1918.5 L1125,1918.5 L1125,1918.5 L1127.76,1918.5 L1127.76,1918.5 L1130.52,1918.5 L1130.52,1921.26 L1133.28,1921.26 L1133.28,1918.5 L1136.04,1918.5 L1136.04,1921.26 L1138.8,1921.26 L1138.8,1921.26 L1141.56,1921.26 L1141.56,1915.74 L1144.32,1915.74 L1144.32,1915.74 L1147.08,1915.74 L1147.08,1918.5 L1149.84,1918.5 L1149.84,1924.02 L1152.6,1924.02 L1152.6,1918.5 L1155.36,1918.5 L1155.36,1921.26 L1158.12,1921.26 L1158.12,1924.02 L1160.88,1924.02 L1160.88,1924.02 L1163.64,1924.02 L1163.64,1912.98 L1166.4,1912.98 L1166.4,1918.5 L1169.16,1918.5 L1169.16,1921.26 L1171.92,1921.26 L1171.92,1921.26 L1174.68,1921.26 L1174.68,1912.98 L1177.44,1912.98 L1177.44,1924.02 L1180.2,1924.02 L1180.2,1921.26 L1182.96,1921.26 L1182.96,1924.02 L1185.72,1924.02 L1185.72,1918.5 L1188.48,1918.5 L1188.48,1915.74 L1191.24,1915.74 L1191.24,1918.5 L1194,1918.5 L1194,1921.26 L1196.76,1921.26 L1196.76,1918.5 L1199.52,1918.5 L1199.52,1918.5 L1202.28,1918.5 L1202.28,1924.02 L1205.04,1924.02 L1205.04,1924.02 L1207.8,1924.02 L1207.8,1915.74 L1210.56,1915.74 L1210.56,1921.26 L1213.32,1921.26 L1213.32,1924.02 L1216.08,1924.02 L1216.08,1915.74 L1218.84,1915.74 L1218.84,1924.02 L1221.6,1924.02 L1221.6,1921.26 L1224.36,1921.26 L1224.36,1929.54 L1227.12,1929.54 L1227.12,1915.74 L1229.88,1915.74 L1229.88,1918.5 L1232.64,1918.5 L1232.64,1921.26 L1235.4,1921.26 L1235.4,1921.26 L1238.16,1921.26 L1238.16,1924.02 L1240.92,1924.02 L1240.92,1915.74 L1243.68,1915.74 L1243.68,1915.74 L1246.44,1915.74 L1246.44,1918.5 L1249.2,1918.5 L1249.2,1915.74 L1251.96,1915.74 L1251.96,1912.98 L1254.72,1912.98 L1254.72,1921.26 L1257.48,1921.26 L1257.48,1924.02 L1260.24,1924.02 L1260.24,1921.26 L1263,1921.26 L1263,1921.26 L1265.76,1921.26 L1265.76,1921.26 L1268.52,1921.26 L1268.52,1921.26 L1271.28,1921.26 L1271.28,1918.5 L1274.04,1918.5 L1274.04,1921.26 L1276.8,1921.26 L1276.8,1921.26 L1279.56,1921.26 L1279.56,1921.26 L1282.32,1921.26 L1282.32,1918.5 L1285.08,1918.5 L1285.08,1921.26 L1287.84,1921.26 L1287.84,1924.02 L1290.6,1924.02 L1290.6,1924.02 L1293.36,1924.02 L1293.36,1918.5 L1296.12,1918.5 L1296.12,1918.5 L1298.88,1918.5 L1298.88,1924.02 L1301.64,1924.02 L1301.64,1921.26 L1304.4,1921.26 L1304.4,1918.5 L1307.16,1918.5 L1307.16,1921.26 L1309.92,1921.26 L1309.92,1921.26 L1312.68,1921.26 L1312.68,1924.02 L1315.44,1924.02 L1315.44,1926.78 L1318.2,1926.78 L1318.2,1921.26 L1320.96,1921.26 L1320.96,1924.02 L1323.72,1924.02 L1323.72,1921.26 L1326.48,1921.26 L1326.48,1924.02 L1329.24,1924.02 L1329.24,1921.26 L1332,1921.26 L1332,1924.02 L1334.76,1924.02 L1334.76,1924.02 L1337.52,1924.02 L1337.52,1921.26 L1340.28,1921.26 L1340.28,1921.26 L1343.04,1921.26 L1343.04,1921.26 L1345.8,1921.26 L1345.8,1926.78 L1348.56,1926.78 L1348.56,1926.78 L1351.32,1926.78 L1351.32,1921.26 L1354.08,1921.26 L1354.08,1924.02 L1356.84,1924.02 L1356.84,1918.5 L1359.6,1918.5 L1359.6,1924.02 L1362.36,1924.02 L1362.36,1921.26 L1365.12,1921.26 L1365.12,1926.78 L1367.88,1926.78 L1367.88,1926.78 L1370.64,1926.78 L1370.64,1921.26 L1373.4,1921.26 L1373.4,1926.78 L1376.16,1926.78 L1376.16,1924.02 L1378.92,1924.02 L1378.92,1924.02 L1381.68,1924.02 L1381.68,1921.26 L1384.44,1921.26 L1384.44,1924.02 L1387.2,1924.02 L1387.2,1924.02 L1389.96,1924.02 L1389.96,1918.5 L1392.72,1918.5 L1392.72,1924.02 L1395.48,1924.02 L1395.48,1926.78 L1398.24,1926.78 L1398.24,1921.26 L1401,1921.26 L1401,1921.26 L1403.76,1921.26 L1403.76,1924.02 L1406.52,1924.02 L1406.52,1926.78 L1409.28,1926.78 L1409.28,1926.78 L1412.04,1926.78 L1412.04,1924.02 L1414.8,1924.02 L1414.8,1921.26 L1417.56,1921.26 L1417.56,1921.26 L1420.32,1921.26 L1420.32,1921.26 L1423.08,1921.26 L1423.08,1932.3 L1425.84,1932.3 L1425.84,1921.26 L1428.6,1921.26 L1428.6,1924.02 L1431.36,1924.02 L1431.36,1924.02 L1434.12,1924.02 L1434.12,1921.26 L1436.88,1921.26 L1436.88,1924.02 L1439.64,1924.02 L1439.64,1921.26 L1442.4,1921.26 L1442.4,1921.26 L1445.16,1921.26 L1445.16,1921.26 L1447.92,1921.26 L1447.92,1918.5 L1450.68,1918.5 L1450.68,1924.02 L1453.44,1924.02 L1453.44,1918.5 L1456.2,1918.5 L1456.2,1924.02 L1458.96,1924.02 L1458.96,1924.02 L1461.72,1924.02 L1461.72,1929.54 L1464.48,1929.54 L1464.48,1926.78 L1467.24,1926.78 L1467.24,1924.02 L1470,1924.02 L1470,1926.78 L1472.76,1926.78 L1472.76,1921.26 L1475.52,1921.26 L1475.52,1918.5 L1478.28,1918.5 L1478.28,1926.78 L1481.04,1926.78 L1481.04,1921.26 L1483.8,1921.26 L1483.8,1924.02 L1486.56,1924.02 L1486.56,1926.78 L1489.32,1926.78 L1489.32,1921.26 L1492.08,1921.26 L1492.08,1924.02 L1494.84,1924.02 L1494.84,1926.78 L1497.6,1926.78 L1497.6,1929.54 L1500.36,1929.54 L1500.36,1926.78 L1503.12,1926.78 L1503.12,1929.54 L1505.88,1929.54 L1505.88,1918.5 L1508.64,1918.5 L1508.64,1929.54 L1511.4,1929.54 L1511.4,1924.02 L1514.16,1924.02 L1514.16,1921.26 L1516.92,1921.26 L1516.92,1924.02 L1519.68,1924.02 L1519.68,1926.78 L1522.44,1926.78 L1522.44,1921.26 L1525.2,1921.26 L1525.2,1929.54 L1527.96,1929.54 L1527.96,1921.26 L1530.72,1921.26 L1530.72,1924.02 L1533.48,1924.02 L1533.48,1924.02 L1536.24,1924.02 L1536.24,1921.26 L1539,1921.26 L1539,1924.02 L1541.76,1924.02 L1541.76,1921.26 L1544.52,1921.26 L1544.52,1924.02 L1547.28,1924.02 L1547.28,1924.02 L1550.04,1924.02 L1550.04,1926.78 L1552.8,1926.78 L1552.8,1921.26 L1555.56,1921.26 L1555.56,1932.3 L1558.32,1932.3 L1558.32,1929.54 L1561.08,1929.54 L1561.08,1929.54 L1563.84,1929.54 L1563.84,1932.3 L1566.6,1932.3 L1566.6,1924.02 L1569.36,1924.02 L1569.36,1924.02 L1572.12,1924.02 L1572.12,1929.54 L1574.88,1929.54 L1574.88,1926.78 L1577.64,1926.78 L1577.64,1929.54 L1580.4,1929.54 L1580.4,1935.06 L1583.16,1935.06 L1583.16,1921.26 L1585.92,1921.26 L1585.92,1929.54 L1588.68,1929.54 L1588.68,1929.54 L1591.44,1929.54 L1591.44,1921.26 L1594.2,1921.26 L1594.2,1926.78 L1596.96,1926.78 L1596.96,1924.02 L1599.72,1924.02 L1599.72,1924.02 L1602.48,1924.02 L1602.48,1932.3 L1605.24,1932.3 L1605.24,1926.78 L1608,1926.78 L1608,1929.54 L1610.76,1929.54 L1610.76,1932.3 L1613.52,1932.3 L1613.52,1929.54 L1616.28,1929.54 L1616.28,1929.54 L1619.04,1929.54 L1619.04,1932.3 L1621.8,1932.3 L1621.8,1924.02 L1624.56,1924.02 L1624.56,1921.26 L1627.32,1921.26 L1627.32,1929.54 L1630.08,1929.54 L1630.08,1926.78 L1632.84,1926.78 L1632.84,1924.02 L1635.6,1924.02 L1635.6,1926.78 L1638.36,1926.78 L1638.36,1924.02 L1641.12,1924.02 L1641.12,1924.02 L1643.88,1924.02 L1643.88,1924.02 L1646.64,1924.02 L1646.64,1924.02 L1649.4,1924.02 L1649.4,1929.54 L1652.16,1929.54 L1652.16,1918.5 L1654.92,1918.5 L1654.92,1924.02 L1657.68,1924.02 L1657.68,1921.26 L1660.44,1921.26 L1660.44,1915.74 L1663.2,1915.74 L1663.2,1915.74 L1665.96,1915.74 L1665.96,1915.74 L1668.72,1915.74 L1668.72,1912.98 L1671.48,1912.98 L1671.48,1907.46 L1674.24,1907.46 L1674.24,1912.98 L1677,1912.98 L1677,1912.98 L1679.76,1912.98 L1679.76,1907.46 L1682.52,1907.46 L1682.52,1904.7 L1685.28,1904.7 L1685.28,1901.94 L1688.04,1901.94 L1688.04,1899.18 L1690.8,1899.18 L1690.8,1896.42 L1693.56,1896.42 L1693.56,1896.42 L1696.32,1896.42 L1696.32,1896.42 L1699.08,1896.42 L1699.08,1890.9 L1701.84,1890.9 L1701.84,1888.14 L1704.6,1888.14 L1704.6,1885.38 L1707.36,1885.38 L1707.36,1885.38 L1710.12,1885.38 L1710.12,1882.62 L1712.88,1882.62 L1712.88,1877.1 L1715.64,1877.1 L1715.64,1874.34 L1718.4,1874.34" fill="none" stroke="#8a8a8a" stroke-width="2.8" filter="url(#tblur)"/>
<path d="M1797,1882.62 L1799.76,1882.62 L1799.76,1893.66 L1802.52,1893.66 L1802.52,1893.66 L1805.28,1893.66 L1805.28,1893.66 L1808.04,1893.66 L1808.04,1901.94 L1810.8,1901.94 L1810.8,1904.7 L1813.56,1904.7 L1813.56,1910.22 L1816.32,1910.22 L1816.32,1912.98 L1819.08,1912.98 L1819.08,1915.74 L1821.84,1915.74 L1821.84,1912.98 L1824.6,1912.98 L1824.6,1912.98 L1827.36,1912.98 L1827.36,1915.74 L1830.12,1915.74 L1830.12,1921.26 L1832.88,1921.26 L1832.88,1918.5 L1835.64,1918.5 L1835.64,1912.98 L1838.4,1912.98 L1838.4,1918.5 L1841.16,1918.5 L1841.16,1918.5 L1843.92,1918.5 L1843.92,1918.5 L1846.68,1918.5 L1846.68,1924.02 L1849.44,1924.02 L1849.44,1926.78 L1852.2,1926.78 L1852.2,1924.02 L1854.96,1924.02 L1854.96,1918.5 L1857.72,1918.5 L1857.72,1924.02 L1860.48,1924.02 L1860.48,1929.54 L1863.24,1929.54 L1863.24,1929.54 L1866,1929.54 L1866,1926.78 L1868.76,1926.78 L1868.76,1926.78 L1871.52,1926.78 L1871.52,1926.78 L1874.28,1926.78 L1874.28,1926.78 L1877.04,1926.78 L1877.04,1935.06 L1879.8,1935.06 L1879.8,1932.3 L1882.56,1932.3 L1882.56,1926.78 L1885.32,1926.78 L1885.32,1924.02 L1888.08,1924.02 L1888.08,1932.3 L1890.84,1932.3 L1890.84,1921.26 L1893.6,1921.26 L1893.6,1924.02 L1896.36,1924.02 L1896.36,1929.54 L1899.12,1929.54 L1899.12,1929.54 L1901.88,1929.54 L1901.88,1926.78 L1904.64,1926.78 L1904.64,1926.78 L1907.4,1926.78 L1907.4,1924.02 L1910.16,1924.02 L1910.16,1926.78 L1912.92,1926.78 L1912.92,1929.54 L1915.68,1929.54 L1915.68,1921.26 L1918.44,1921.26 L1918.44,1932.3 L1921.2,1932.3 L1921.2,1929.54 L1923.96,1929.54 L1923.96,1932.3 L1926.72,1932.3 L1926.72,1926.78 L1929.48,1926.78 L1929.48,1929.54 L1932.24,1929.54 L1932.24,1926.78 L1935,1926.78 L1935,1929.54 L1937.76,1929.54 L1937.76,1932.3 L1940.52,1932.3 L1940.52,1924.02 L1943.28,1924.02 L1943.28,1932.3 L1946.04,1932.3 L1946.04,1932.3 L1948.8,1932.3 L1948.8,1935.06 L1951.56,1935.06 L1951.56,1924.02 L1954.32,1924.02 L1954.32,1932.3 L1957.08,1932.3 L1957.08,1937.82 L1959.84,1937.82 L1959.84,1929.54 L1962.6,1929.54 L1962.6,1932.3 L1965.36,1932.3 L1965.36,1935.06 L1968.12,1935.06 L1968.12,1937.82 L1970.88,1937.82 L1970.88,1926.78 L1973.64,1926.78 L1973.64,1935.06 L1976.4,1935.06 L1976.4,1932.3 L1979.16,1932.3 L1979.16,1935.06 L1981.92,1935.06 L1981.92,1929.54 L1984.68,1929.54 L1984.68,1932.3 L1987.44,1932.3 L1987.44,1935.06 L1990.2,1935.06 L1990.2,1935.06 L1992.96,1935.06 L1992.96,1932.3 L1995.72,1932.3 L1995.72,1932.3 L1998.48,1932.3 L1998.48,1940.58 L2001.24,1940.58 L2001.24,1932.3 L2004,1932.3 L2004,1932.3 L2006.76,1932.3 L2006.76,1937.82 L2009.52,1937.82 L2009.52,1937.82 L2012.28,1937.82 L2012.28,1935.06 L2015.04,1935.06 L2015.04,1943.34 L2017.8,1943.34 L2017.8,1940.58 L2020.56,1940.58 L2020.56,1937.82 L2023.32,1937.82 L2023.32,1935.06 L2026.08,1935.06 L2026.08,1935.06 L2028.84,1935.06 L2028.84,1940.58 L2031.6,1940.58 L2031.6,1937.82 L2034.36,1937.82 L2034.36,1935.06 L2037.12,1935.06 L2037.12,1940.58 L2039.88,1940.58 L2039.88,1937.82 L2042.64,1937.82 L2042.64,1937.82 L2045.4,1937.82 L2045.4,1935.06 L2048.16,1935.06 L2048.16,1943.34 L2050.92,1943.34 L2050.92,1937.82 L2053.68,1937.82 L2053.68,1937.82 L2056.44,1937.82 L2056.44,1943.34 L2059.2,1943.34 L2059.2,1940.58 L2061.96,1940.58 L2061.96,1940.58 L2064.72,1940.58 L2064.72,1937.82 L2067.48,1937.82 L2067.48,1940.58 L2070.24,1940.58 L2070.24,1937.82 L2073,1937.82 L2073,1935.06 L2075.76,1935.06 L2075.76,1937.82 L2078.52,1937.82 L2078.52,1940.58 L2081.28,1940.58 L2081.28,1937.82 L2084.04,1937.82 L2084.04,1929.54 L2086.8,1929.54 L2086.8,1937.82 L2089.56,1937.82 L2089.56,1940.58 L2092.32,1940.58 L2092.32,1937.82 L2095.08,1937.82 L2095.08,1937.82 L2097.84,1937.82 L2097.84,1937.82 L2100.6,1937.82 L2100.6,1937.82 L2103.36,1937.82 L2103.36,1937.82 L2106.12,1937.82 L2106.12,1940.58 L2108.88,1940.58 L2108.88,1943.34 L2111.64,1943.34 L2111.64,1935.06 L2114.4,1935.06 L2114.4,1937.82 L2117.16,1937.82 L2117.16,1943.34 L2119.92,1943.34 L2119.92,1943.34 L2122.68,1943.34 L2122.68,1937.82 L2125.44,1937.82 L2125.44,1943.34 L2128.2,1943.34 L2128.2,1940.58 L2130.96,1940.58 L2130.96,1932.3 L2133.72,1932.3 L2133.72,1948.86 L2136.48,1948.86 L2136.48,1935.06 L2139.24,1935.06 L2139.24,1935.06 L2142,1935.06 L2142,1940.58 L2144.76,1940.58 L2144.76,1940.58 L2147.52,1940.58 L2147.52,1937.82 L2150.28,1937.82 L2150.28,1940.58 L2153.04,1940.58 L2153.04,1940.58 L2155.8,1940.58 L2155.8,1937.82 L2158.56,1937.82 L2158.56,1940.58 L2161.32,1940.58 L2161.32,1943.34 L2164.08,1943.34" fill="none" stroke="#8a8a8a" stroke-width="2.8" filter="url(#tblur)"/>
<path d="M228,1899.18 L230.76,1899.18 L230.76,1893.66 L233.52,1893.66 L233.52,1899.18 L236.28,1899.18 L236.28,1904.7 L239.04,1904.7 L239.04,1896.42 L241.8,1896.42 L241.8,1893.66 L244.56,1893.66 L244.56,1904.7 L247.32,1904.7 L247.32,1904.7 L250.08,1904.7 L250.08,1901.94 L252.84,1901.94 L252.84,1899.18 L255.6,1899.18 L255.6,1896.42 L258.36,1896.42 L258.36,1901.94 L261.12,1901.94 L261.12,1899.18 L263.88,1899.18 L263.88,1899.18 L266.64,1899.18 L266.64,1904.7 L269.4,1904.7 L269.4,1901.94 L272.16,1901.94 L272.16,1896.42 L274.92,1896.42 L274.92,1899.18 L277.68,1899.18 L277.68,1901.94 L280.44,1901.94 L280.44,1899.18 L283.2,1899.18 L283.2,1899.18 L285.96,1899.18 L285.96,1899.18 L288.72,1899.18 L288.72,1899.18 L291.48,1899.18 L291.48,1910.22 L294.24,1910.22 L294.24,1901.94 L297,1901.94 L297,1901.94 L299.76,1901.94 L299.76,1901.94 L302.52,1901.94 L302.52,1899.18 L305.28,1899.18 L305.28,1901.94 L308.04,1901.94 L308.04,1896.42 L310.8,1896.42 L310.8,1901.94 L313.56,1901.94 L313.56,1899.18 L316.32,1899.18 L316.32,1899.18 L319.08,1899.18 L319.08,1899.18 L321.84,1899.18 L321.84,1896.42 L324.6,1896.42 L324.6,1899.18 L327.36,1899.18 L327.36,1904.7 L330.12,1904.7 L330.12,1899.18 L332.88,1899.18 L332.88,1896.42 L335.64,1896.42 L335.64,1899.18 L338.4,1899.18 L338.4,1901.94 L341.16,1901.94 L341.16,1896.42 L343.92,1896.42 L343.92,1901.94 L346.68,1901.94 L346.68,1904.7 L349.44,1904.7 L349.44,1896.42 L352.2,1896.42 L352.2,1901.94 L354.96,1901.94 L354.96,1899.18 L357.72,1899.18 L357.72,1899.18 L360.48,1899.18 L360.48,1899.18 L363.24,1899.18 L363.24,1904.7 L366,1904.7 L366,1904.7 L368.76,1904.7 L368.76,1901.94 L371.52,1901.94 L371.52,1907.46 L374.28,1907.46 L374.28,1899.18 L377.04,1899.18 L377.04,1901.94 L379.8,1901.94 L379.8,1901.94 L382.56,1901.94 L382.56,1907.46 L385.32,1907.46 L385.32,1896.42 L388.08,1896.42 L388.08,1899.18 L390.84,1899.18 L390.84,1904.7 L393.6,1904.7 L393.6,1899.18 L396.36,1899.18 L396.36,1901.94 L399.12,1901.94 L399.12,1899.18 L401.88,1899.18 L401.88,1899.18 L404.64,1899.18 L404.64,1904.7 L407.4,1904.7 L407.4,1904.7 L410.16,1904.7 L410.16,1907.46 L412.92,1907.46 L412.92,1901.94 L415.68,1901.94 L415.68,1893.66 L418.44,1893.66 L418.44,1904.7 L421.2,1904.7 L421.2,1907.46 L423.96,1907.46 L423.96,1907.46 L426.72,1907.46 L426.72,1901.94 L429.48,1901.94 L429.48,1899.18 L432.24,1899.18 L432.24,1899.18 L435,1899.18 L435,1907.46 L437.76,1907.46 L437.76,1901.94 L440.52,1901.94 L440.52,1907.46 L443.28,1907.46 L443.28,1896.42 L446.04,1896.42 L446.04,1901.94 L448.8,1901.94 L448.8,1899.18 L451.56,1899.18 L451.56,1901.94 L454.32,1901.94 L454.32,1904.7 L457.08,1904.7 L457.08,1896.42 L459.84,1896.42 L459.84,1899.18 L462.6,1899.18 L462.6,1907.46 L465.36,1907.46 L465.36,1901.94 L468.12,1901.94 L468.12,1893.66 L470.88,1893.66 L470.88,1904.7 L473.64,1904.7 L473.64,1907.46 L476.4,1907.46 L476.4,1901.94 L479.16,1901.94 L479.16,1901.94 L481.92,1901.94 L481.92,1907.46 L484.68,1907.46 L484.68,1907.46 L487.44,1907.46 L487.44,1915.74 L490.2,1915.74 L490.2,1904.7 L492.96,1904.7 L492.96,1907.46 L495.72,1907.46 L495.72,1907.46 L498.48,1907.46 L498.48,1904.7 L501.24,1904.7 L501.24,1899.18 L504,1899.18 L504,1901.94 L506.76,1901.94 L506.76,1910.22 L509.52,1910.22 L509.52,1896.42 L512.28,1896.42 L512.28,1910.22 L515.04,1910.22 L515.04,1904.7 L517.8,1904.7 L517.8,1907.46 L520.56,1907.46 L520.56,1907.46 L523.32,1907.46 L523.32,1910.22 L526.08,1910.22 L526.08,1901.94 L528.84,1901.94 L528.84,1901.94 L531.6,1901.94 L531.6,1896.42 L534.36,1896.42 L534.36,1904.7 L537.12,1904.7 L537.12,1907.46 L539.88,1907.46 L539.88,1901.94 L542.64,1901.94 L542.64,1904.7 L545.4,1904.7 L545.4,1910.22 L548.16,1910.22 L548.16,1910.22 L550.92,1910.22 L550.92,1910.22 L553.68,1910.22 L553.68,1899.18 L556.44,1899.18 L556.44,1901.94 L559.2,1901.94 L559.2,1901.94 L561.96,1901.94 L561.96,1910.22 L564.72,1910.22 L564.72,1907.46 L567.48,1907.46 L567.48,1901.94 L570.24,1901.94 L570.24,1910.22 L573,1910.22 L573,1915.74 L575.76,1915.74 L575.76,1907.46 L578.52,1907.46 L578.52,1904.7 L581.28,1904.7 L581.28,1904.7 L584.04,1904.7 L584.04,1912.98 L586.8,1912.98 L586.8,1907.46 L589.56,1907.46 L589.56,1899.18 L592.32,1899.18 L592.32,1901.94 L595.08,1901.94 L595.08,1904.7 L597.84,1904.7 L597.84,1901.94 L600.6,1901.94 L600.6,1904.7 L603.36,1904.7 L603.36,1912.98 L606.12,1912.98 L606.12,1899.18 L608.88,1899.18 L608.88,1912.98 L611.64,1912.98 L611.64,1904.7 L614.4,1904.7 L614.4,1904.7 L617.16,1904.7 L617.16,1912.98 L619.92,1912.98 L619.92,1907.46 L622.68,1907.46 L622.68,1899.18 L625.44,1899.18 L625.44,1904.7 L628.2,1904.7 L628.2,1904.7 L630.96,1904.7 L630.96,1907.46 L633.72,1907.46 L633.72,1915.74 L636.48,1915.74 L636.48,1912.98 L639.24,1912.98 L639.24,1907.46 L642,1907.46 L642,1904.7 L644.76,1904.7 L644.76,1907.46 L647.52,1907.46 L647.52,1907.46 L650.28,1907.46 L650.28,1907.46 L653.04,1907.46 L653.04,1910.22 L655.8,1910.22 L655.8,1907.46 L658.56,1907.46 L658.56,1918.5 L661.32,1918.5 L661.32,1912.98 L664.08,1912.98 L664.08,1904.7 L666.84,1904.7 L666.84,1910.22 L669.6,1910.22 L669.6,1910.22 L672.36,1910.22 L672.36,1910.22 L675.12,1910.22 L675.12,1907.46 L677.88,1907.46 L677.88,1910.22 L680.64,1910.22 L680.64,1901.94 L683.4,1901.94 L683.4,1907.46 L686.16,1907.46 L686.16,1915.74 L688.92,1915.74 L688.92,1912.98 L691.68,1912.98 L691.68,1910.22 L694.44,1910.22 L694.44,1912.98 L697.2,1912.98 L697.2,1907.46 L699.96,1907.46 L699.96,1912.98 L702.72,1912.98 L702.72,1912.98 L705.48,1912.98 L705.48,1912.98 L708.24,1912.98 L708.24,1910.22 L711,1910.22 L711,1910.22 L713.76,1910.22 L713.76,1907.46 L716.52,1907.46 L716.52,1915.74 L719.28,1915.74 L719.28,1915.74 L722.04,1915.74 L722.04,1907.46 L724.8,1907.46 L724.8,1910.22 L727.56,1910.22 L727.56,1904.7 L730.32,1904.7 L730.32,1910.22 L733.08,1910.22 L733.08,1910.22 L735.84,1910.22 L735.84,1901.94 L738.6,1901.94 L738.6,1910.22 L741.36,1910.22 L741.36,1907.46 L744.12,1907.46 L744.12,1901.94 L746.88,1901.94 L746.88,1910.22 L749.64,1910.22 L749.64,1904.7 L752.4,1904.7 L752.4,1918.5 L755.16,1918.5 L755.16,1910.22 L757.92,1910.22 L757.92,1915.74 L760.68,1915.74 L760.68,1912.98 L763.44,1912.98 L763.44,1915.74 L766.2,1915.74 L766.2,1904.7 L768.96,1904.7 L768.96,1912.98 L771.72,1912.98 L771.72,1912.98 L774.48,1912.98 L774.48,1915.74 L777.24,1915.74 L777.24,1910.22 L780,1910.22 L780,1915.74 L782.76,1915.74 L782.76,1912.98 L785.52,1912.98 L785.52,1910.22 L788.28,1910.22 L788.28,1915.74 L791.04,1915.74 L791.04,1915.74 L793.8,1915.74 L793.8,1915.74 L796.56,1915.74 L796.56,1910.22 L799.32,1910.22 L799.32,1912.98 L802.08,1912.98 L802.08,1918.5 L804.84,1918.5 L804.84,1910.22 L807.6,1910.22 L807.6,1912.98 L810.36,1912.98 L810.36,1907.46 L813.12,1907.46 L813.12,1910.22 L815.88,1910.22 L815.88,1912.98 L818.64,1912.98 L818.64,1915.74 L821.4,1915.74 L821.4,1907.46 L824.16,1907.46 L824.16,1910.22 L826.92,1910.22 L826.92,1907.46 L829.68,1907.46 L829.68,1901.94 L832.44,1901.94 L832.44,1910.22 L835.2,1910.22 L835.2,1918.5 L837.96,1918.5 L837.96,1912.98 L840.72,1912.98 L840.72,1904.7 L843.48,1904.7 L843.48,1912.98 L846.24,1912.98 L846.24,1918.5 L849,1918.5 L849,1912.98 L851.76,1912.98 L851.76,1912.98 L854.52,1912.98 L854.52,1912.98 L857.28,1912.98 L857.28,1915.74 L860.04,1915.74 L860.04,1915.74 L862.8,1915.74 L862.8,1912.98 L865.56,1912.98 L865.56,1904.7 L868.32,1904.7 L868.32,1907.46 L871.08,1907.46 L871.08,1912.98 L873.84,1912.98 L873.84,1912.98 L876.6,1912.98 L876.6,1912.98 L879.36,1912.98 L879.36,1912.98 L882.12,1912.98 L882.12,1904.7 L884.88,1904.7 L884.88,1904.7 L887.64,1904.7 L887.64,1915.74 L890.4,1915.74 L890.4,1907.46 L893.16,1907.46 L893.16,1915.74 L895.92,1915.74 L895.92,1915.74 L898.68,1915.74 L898.68,1901.94 L901.44,1901.94 L901.44,1918.5 L904.2,1918.5 L904.2,1921.26 L906.96,1921.26 L906.96,1918.5 L909.72,1918.5 L909.72,1915.74 L912.48,1915.74 L912.48,1915.74 L915.24,1915.74 L915.24,1915.74 L918,1915.74 L918,1912.98 L920.76,1912.98 L920.76,1918.5 L923.52,1918.5 L923.52,1918.5 L926.28,1918.5 L926.28,1918.5 L929.04,1918.5 L929.04,1912.98 L931.8,1912.98 L931.8,1915.74 L934.56,1915.74 L934.56,1910.22 L937.32,1910.22 L937.32,1918.5 L940.08,1918.5 L940.08,1918.5 L942.84,1918.5 L942.84,1918.5 L945.6,1918.5 L945.6,1907.46 L948.36,1907.46 L948.36,1926.78 L951.12,1926.78 L951.12,1915.74 L953.88,1915.74 L953.88,1915.74 L956.64,1915.74 L956.64,1924.02 L959.4,1924.02 L959.4,1918.5 L962.16,1918.5 L962.16,1915.74 L964.92,1915.74 L964.92,1918.5 L967.68,1918.5 L967.68,1921.26 L970.44,1921.26 L970.44,1924.02 L973.2,1924.02 L973.2,1918.5 L975.96,1918.5 L975.96,1915.74 L978.72,1915.74 L978.72,1924.02 L981.48,1924.02 L981.48,1912.98 L984.24,1912.98 L984.24,1921.26 L987,1921.26 L987,1918.5 L989.76,1918.5 L989.76,1910.22 L992.52,1910.22 L992.52,1915.74 L995.28,1915.74 L995.28,1915.74 L998.04,1915.74 L998.04,1918.5 L1000.8,1918.5 L1000.8,1915.74 L1003.56,1915.74 L1003.56,1912.98 L1006.32,1912.98 L1006.32,1915.74 L1009.08,1915.74 L1009.08,1921.26 L1011.84,1921.26 L1011.84,1912.98 L1014.6,1912.98 L1014.6,1915.74 L1017.36,1915.74 L1017.36,1912.98 L1020.12,1912.98 L1020.12,1918.5 L1022.88,1918.5 L1022.88,1915.74 L1025.64,1915.74 L1025.64,1915.74 L1028.4,1915.74 L1028.4,1918.5 L1031.16,1918.5 L1031.16,1918.5 L1033.92,1918.5 L1033.92,1918.5 L1036.68,1918.5 L1036.68,1915.74 L1039.44,1915.74 L1039.44,1912.98 L1042.2,1912.98 L1042.2,1918.5 L1044.96,1918.5 L1044.96,1912.98 L1047.72,1912.98 L1047.72,1918.5 L1050.48,1918.5 L1050.48,1921.26 L1053.24,1921.26 L1053.24,1915.74 L1056,1915.74 L1056,1915.74 L1058.76,1915.74 L1058.76,1924.02 L1061.52,1924.02 L1061.52,1912.98 L1064.28,1912.98 L1064.28,1921.26 L1067.04,1921.26 L1067.04,1918.5 L1069.8,1918.5 L1069.8,1918.5 L1072.56,1918.5 L1072.56,1915.74 L1075.32,1915.74 L1075.32,1918.5 L1078.08,1918.5 L1078.08,1918.5 L1080.84,1918.5 L1080.84,1921.26 L1083.6,1921.26 L1083.6,1921.26 L1086.36,1921.26 L1086.36,1912.98 L1089.12,1912.98 L1089.12,1918.5 L1091.88,1918.5 L1091.88,1924.02 L1094.64,1924.02 L1094.64,1924.02 L1097.4,1924.02 L1097.4,1918.5 L1100.16,1918.5 L1100.16,1918.5 L1102.92,1918.5 L1102.92,1924.02 L1105.68,1924.02 L1105.68,1924.02 L1108.44,1924.02 L1108.44,1921.26 L1111.2,1921.26 L1111.2,1926.78 L1113.96,1926.78 L1113.96,1924.02 L1116.72,1924.02 L1116.72,1918.5 L1119.48,1918.5 L1119.48,1924.02 L1122.24,1924.02 L1122.24,1921.26 L1125,1921.26 L1125,1918.5 L1127.76,1918.5 L1127.76,1918.5 L1130.52,1918.5 L1130.52,1921.26 L1133.28,1921.26 L1133.28,1918.5 L1136.04,1918.5 L1136.04,1921.26 L1138.8,1921.26 L1138.8,1921.26 L1141.56,1921.26 L1141.56,1921.26 L1144.32,1921.26 L1144.32,1918.5 L1147.08,1918.5 L1147.08,1918.5 L1149.84,1918.5 L1149.84,1918.5 L1152.6,1918.5 L1152.6,1921.26 L1155.36,1921.26 L1155.36,1921.26 L1158.12,1921.26 L1158.12,1918.5 L1160.88,1918.5 L1160.88,1918.5 L1163.64,1918.5 L1163.64,1929.54 L1166.4,1929.54 L1166.4,1921.26 L1169.16,1921.26 L1169.16,1924.02 L1171.92,1924.02 L1171.92,1924.02 L1174.68,1924.02 L1174.68,1924.02 L1177.44,1924.02 L1177.44,1926.78 L1180.2,1926.78 L1180.2,1921.26 L1182.96,1921.26 L1182.96,1921.26 L1185.72,1921.26 L1185.72,1912.98 L1188.48,1912.98 L1188.48,1918.5 L1191.24,1918.5 L1191.24,1924.02 L1194,1924.02 L1194,1926.78 L1196.76,1926.78 L1196.76,1921.26 L1199.52,1921.26 L1199.52,1926.78 L1202.28,1926.78 L1202.28,1924.02 L1205.04,1924.02 L1205.04,1915.74 L1207.8,1915.74 L1207.8,1924.02 L1210.56,1924.02 L1210.56,1915.74 L1213.32,1915.74 L1213.32,1924.02 L1216.08,1924.02 L1216.08,1926.78 L1218.84,1926.78 L1218.84,1924.02 L1221.6,1924.02 L1221.6,1918.5 L1224.36,1918.5 L1224.36,1921.26 L1227.12,1921.26 L1227.12,1918.5 L1229.88,1918.5 L1229.88,1918.5 L1232.64,1918.5 L1232.64,1918.5 L1235.4,1918.5 L1235.4,1918.5 L1238.16,1918.5 L1238.16,1921.26 L1240.92,1921.26 L1240.92,1912.98 L1243.68,1912.98 L1243.68,1926.78 L1246.44,1926.78 L1246.44,1921.26 L1249.2,1921.26 L1249.2,1915.74 L1251.96,1915.74 L1251.96,1918.5 L1254.72,1918.5 L1254.72,1926.78 L1257.48,1926.78 L1257.48,1924.02 L1260.24,1924.02 L1260.24,1924.02 L1263,1924.02 L1263,1912.98 L1265.76,1912.98 L1265.76,1921.26 L1268.52,1921.26 L1268.52,1921.26 L1271.28,1921.26 L1271.28,1921.26 L1274.04,1921.26 L1274.04,1921.26 L1276.8,1921.26 L1276.8,1915.74 L1279.56,1915.74 L1279.56,1924.02 L1282.32,1924.02 L1282.32,1921.26 L1285.08,1921.26 L1285.08,1924.02 L1287.84,1924.02 L1287.84,1918.5 L1290.6,1918.5 L1290.6,1921.26 L1293.36,1921.26 L1293.36,1924.02 L1296.12,1924.02 L1296.12,1924.02 L1298.88,1924.02 L1298.88,1912.98 L1301.64,1912.98 L1301.64,1926.78 L1304.4,1926.78 L1304.4,1924.02 L1307.16,1924.02 L1307.16,1924.02 L1309.92,1924.02 L1309.92,1915.74 L1312.68,1915.74 L1312.68,1921.26 L1315.44,1921.26 L1315.44,1921.26 L1318.2,1921.26 L1318.2,1924.02 L1320.96,1924.02 L1320.96,1921.26 L1323.72,1921.26 L1323.72,1926.78 L1326.48,1926.78 L1326.48,1921.26 L1329.24,1921.26 L1329.24,1935.06 L1332,1935.06 L1332,1926.78 L1334.76,1926.78 L1334.76,1921.26 L1337.52,1921.26 L1337.52,1915.74 L1340.28,1915.74 L1340.28,1912.98 L1343.04,1912.98 L1343.04,1926.78 L1345.8,1926.78 L1345.8,1921.26 L1348.56,1921.26 L1348.56,1924.02 L1351.32,1924.02 L1351.32,1924.02 L1354.08,1924.02 L1354.08,1924.02 L1356.84,1924.02 L1356.84,1924.02 L1359.6,1924.02 L1359.6,1918.5 L1362.36,1918.5 L1362.36,1924.02 L1365.12,1924.02 L1365.12,1924.02 L1367.88,1924.02 L1367.88,1926.78 L1370.64,1926.78 L1370.64,1924.02 L1373.4,1924.02 L1373.4,1926.78 L1376.16,1926.78 L1376.16,1926.78 L1378.92,1926.78 L1378.92,1924.02 L1381.68,1924.02 L1381.68,1921.26 L1384.44,1921.26 L1384.44,1924.02 L1387.2,1924.02 L1387.2,1924.02 L1389.96,1924.02 L1389.96,1924.02 L1392.72,1924.02 L1392.72,1921.26 L1395.48,1921.26 L1395.48,1921.26 L1398.24,1921.26 L1398.24,1921.26 L1401,1921.26 L1401,1924.02 L1403.76,1924.02 L1403.76,1921.26 L1406.52,1921.26 L1406.52,1926.78 L1409.28,1926.78 L1409.28,1932.3 L1412.04,1932.3 L1412.04,1912.98 L1414.8,1912.98 L1414.8,1918.5 L1417.56,1918.5 L1417.56,1921.26 L1420.32,1921.26 L1420.32,1924.02 L1423.08,1924.02 L1423.08,1921.26 L1425.84,1921.26 L1425.84,1924.02 L1428.6,1924.02 L1428.6,1924.02 L1431.36,1924.02 L1431.36,1924.02 L1434.12,1924.02 L1434.12,1924.02 L1436.88,1924.02 L1436.88,1921.26 L1439.64,1921.26 L1439.64,1924.02 L1442.4,1924.02 L1442.4,1924.02 L1445.16,1924.02 L1445.16,1924.02 L1447.92,1924.02 L1447.92,1926.78 L1450.68,1926.78 L1450.68,1924.02 L1453.44,1924.02 L1453.44,1935.06 L1456.2,1935.06 L1456.2,1924.02 L1458.96,1924.02 L1458.96,1924.02 L1461.72,1924.02 L1461.72,1918.5 L1464.48,1918.5 L1464.48,1926.78 L1467.24,1926.78 L1467.24,1921.26 L1470,1921.26 L1470,1912.98 L1472.76,1912.98 L1472.76,1924.02 L1475.52,1924.02 L1475.52,1926.78 L1478.28,1926.78 L1478.28,1926.78 L1481.04,1926.78 L1481.04,1929.54 L1483.8,1929.54 L1483.8,1932.3 L1486.56,1932.3 L1486.56,1926.78 L1489.32,1926.78 L1489.32,1926.78 L1492.08,1926.78 L1492.08,1924.02 L1494.84,1924.02 L1494.84,1926.78 L1497.6,1926.78 L1497.6,1921.26 L1500.36,1921.26 L1500.36,1926.78 L1503.12,1926.78 L1503.12,1921.26 L1505.88,1921.26 L1505.88,1924.02 L1508.64,1924.02 L1508.64,1926.78 L1511.4,1926.78 L1511.4,1924.02 L1514.16,1924.02 L1514.16,1924.02 L1516.92,1924.02 L1516.92,1924.02 L1519.68,1924.02 L1519.68,1929.54 L1522.44,1929.54 L1522.44,1926.78 L1525.2,1926.78 L1525.2,1932.3 L1527.96,1932.3 L1527.96,1921.26 L1530.72,1921.26 L1530.72,1918.5 L1533.48,1918.5 L1533.48,1924.02 L1536.24,1924.02 L1536.24,1929.54 L1539,1929.54 L1539,1924.02 L1541.76,1924.02 L1541.76,1926.78 L1544.52,1926.78 L1544.52,1935.06 L1547.28,1935.06 L1547.28,1924.02 L1550.04,1924.02 L1550.04,1924.02 L1552.8,1924.02 L1552.8,1929.54 L1555.56,1929.54 L1555.56,1924.02 L1558.32,1924.02 L1558.32,1921.26 L1561.08,1921.26 L1561.08,1926.78 L1563.84,1926.78 L1563.84,1924.02 L1566.6,1924.02 L1566.6,1926.78 L1569.36,1926.78 L1569.36,1924.02 L1572.12,1924.02 L1572.12,1929.54 L1574.88,1929.54 L1574.88,1929.54 L1577.64,1929.54 L1577.64,1932.3 L1580.4,1932.3 L1580.4,1921.26 L1583.16,1921.26 L1583.16,1926.78 L1585.92,1926.78 L1585.92,1924.02 L1588.68,1924.02 L1588.68,1929.54 L1591.44,1929.54 L1591.44,1924.02 L1594.2,1924.02 L1594.2,1926.78 L1596.96,1926.78 L1596.96,1924.02 L1599.72,1924.02 L1599.72,1926.78 L1602.48,1926.78 L1602.48,1929.54 L1605.24,1929.54 L1605.24,1926.78 L1608,1926.78 L1608,1935.06 L1610.76,1935.06 L1610.76,1924.02 L1613.52,1924.02 L1613.52,1926.78 L1616.28,1926.78 L1616.28,1921.26 L1619.04,1921.26 L1619.04,1924.02 L1621.8,1924.02 L1621.8,1929.54 L1624.56,1929.54 L1624.56,1921.26 L1627.32,1921.26 L1627.32,1932.3 L1630.08,1932.3 L1630.08,1924.02 L1632.84,1924.02 L1632.84,1929.54 L1635.6,1929.54 L1635.6,1924.02 L1638.36,1924.02 L1638.36,1926.78 L1641.12,1926.78 L1641.12,1924.02 L1643.88,1924.02 L1643.88,1924.02 L1646.64,1924.02 L1646.64,1921.26 L1649.4,1921.26 L1649.4,1921.26 L1652.16,1921.26 L1652.16,1921.26 L1654.92,1921.26 L1654.92,1932.3 L1657.68,1932.3 L1657.68,1915.74 L1660.44,1915.74 L1660.44,1915.74 L1663.2,1915.74 L1663.2,1907.46 L1665.96,1907.46 L1665.96,1912.98 L1668.72,1912.98 L1668.72,1904.7 L1671.48,1904.7 L1671.48,1907.46 L1674.24,1907.46 L1674.24,1910.22 L1677,1910.22 L1677,1907.46 L1679.76,1907.46 L1679.76,1901.94 L1682.52,1901.94 L1682.52,1899.18 L1685.28,1899.18 L1685.28,1901.94 L1688.04,1901.94 L1688.04,1899.18 L1690.8,1899.18 L1690.8,1896.42 L1693.56,1896.42 L1693.56,1893.66 L1696.32,1893.66 L1696.32,1888.14 L1699.08,1888.14 L1699.08,1890.9 L1701.84,1890.9 L1701.84,1896.42 L1704.6,1896.42 L1704.6,1888.14 L1707.36,1888.14 L1707.36,1890.9 L1710.12,1890.9 L1710.12,1882.62 L1712.88,1882.62 L1712.88,1874.34 L1715.64,1874.34 L1715.64,1863.3 L1718.4,1863.3" fill="none" stroke="#1a1a1a" stroke-width="3" stroke-linejoin="miter" filter="url(#tblur)"/>
<path d="M1797,1885.38 L1799.76,1885.38 L1799.76,1893.66 L1802.52,1893.66 L1802.52,1899.18 L1805.28,1899.18 L1805.28,1904.7 L1808.04,1904.7 L1808.04,1904.7 L1810.8,1904.7 L1810.8,1915.74 L1813.56,1915.74 L1813.56,1907.46 L1816.32,1907.46 L1816.32,1915.74 L1819.08,1915.74 L1819.08,1915.74 L1821.84,1915.74 L1821.84,1915.74 L1824.6,1915.74 L1824.6,1915.74 L1827.36,1915.74 L1827.36,1912.98 L1830.12,1912.98 L1830.12,1915.74 L1832.88,1915.74 L1832.88,1921.26 L1835.64,1921.26 L1835.64,1921.26 L1838.4,1921.26 L1838.4,1918.5 L1841.16,1918.5 L1841.16,1918.5 L1843.92,1918.5 L1843.92,1921.26 L1846.68,1921.26 L1846.68,1926.78 L1849.44,1926.78 L1849.44,1926.78 L1852.2,1926.78 L1852.2,1924.02 L1854.96,1924.02 L1854.96,1924.02 L1857.72,1924.02 L1857.72,1926.78 L1860.48,1926.78 L1860.48,1921.26 L1863.24,1921.26 L1863.24,1926.78 L1866,1926.78 L1866,1926.78 L1868.76,1926.78 L1868.76,1924.02 L1871.52,1924.02 L1871.52,1929.54 L1874.28,1929.54 L1874.28,1926.78 L1877.04,1926.78 L1877.04,1935.06 L1879.8,1935.06 L1879.8,1926.78 L1882.56,1926.78 L1882.56,1929.54 L1885.32,1929.54 L1885.32,1921.26 L1888.08,1921.26 L1888.08,1926.78 L1890.84,1926.78 L1890.84,1926.78 L1893.6,1926.78 L1893.6,1924.02 L1896.36,1924.02 L1896.36,1921.26 L1899.12,1921.26 L1899.12,1921.26 L1901.88,1921.26 L1901.88,1921.26 L1904.64,1921.26 L1904.64,1926.78 L1907.4,1926.78 L1907.4,1918.5 L1910.16,1918.5 L1910.16,1921.26 L1912.92,1921.26 L1912.92,1921.26 L1915.68,1921.26 L1915.68,1921.26 L1918.44,1921.26 L1918.44,1924.02 L1921.2,1924.02 L1921.2,1924.02 L1923.96,1924.02 L1923.96,1929.54 L1926.72,1929.54 L1926.72,1935.06 L1929.48,1935.06 L1929.48,1926.78 L1932.24,1926.78 L1932.24,1924.02 L1935,1924.02 L1935,1929.54 L1937.76,1929.54 L1937.76,1929.54 L1940.52,1929.54 L1940.52,1935.06 L1943.28,1935.06 L1943.28,1926.78 L1946.04,1926.78 L1946.04,1921.26 L1948.8,1921.26 L1948.8,1926.78 L1951.56,1926.78 L1951.56,1924.02 L1954.32,1924.02 L1954.32,1929.54 L1957.08,1929.54 L1957.08,1937.82 L1959.84,1937.82 L1959.84,1932.3 L1962.6,1932.3 L1962.6,1924.02 L1965.36,1924.02 L1965.36,1929.54 L1968.12,1929.54 L1968.12,1932.3 L1970.88,1932.3 L1970.88,1935.06 L1973.64,1935.06 L1973.64,1935.06 L1976.4,1935.06 L1976.4,1937.82 L1979.16,1937.82 L1979.16,1932.3 L1981.92,1932.3 L1981.92,1932.3 L1984.68,1932.3 L1984.68,1926.78 L1987.44,1926.78 L1987.44,1937.82 L1990.2,1937.82 L1990.2,1935.06 L1992.96,1935.06 L1992.96,1932.3 L1995.72,1932.3 L1995.72,1937.82 L1998.48,1937.82 L1998.48,1932.3 L2001.24,1932.3 L2001.24,1932.3 L2004,1932.3 L2004,1932.3 L2006.76,1932.3 L2006.76,1937.82 L2009.52,1937.82 L2009.52,1935.06 L2012.28,1935.06 L2012.28,1937.82 L2015.04,1937.82 L2015.04,1937.82 L2017.8,1937.82 L2017.8,1935.06 L2020.56,1935.06 L2020.56,1932.3 L2023.32,1932.3 L2023.32,1935.06 L2026.08,1935.06 L2026.08,1932.3 L2028.84,1932.3 L2028.84,1926.78 L2031.6,1926.78 L2031.6,1940.58 L2034.36,1940.58 L2034.36,1935.06 L2037.12,1935.06 L2037.12,1943.34 L2039.88,1943.34 L2039.88,1943.34 L2042.64,1943.34 L2042.64,1937.82 L2045.4,1937.82 L2045.4,1937.82 L2048.16,1937.82 L2048.16,1940.58 L2050.92,1940.58 L2050.92,1937.82 L2053.68,1937.82 L2053.68,1926.78 L2056.44,1926.78 L2056.44,1943.34 L2059.2,1943.34 L2059.2,1940.58 L2061.96,1940.58 L2061.96,1943.34 L2064.72,1943.34 L2064.72,1937.82 L2067.48,1937.82 L2067.48,1943.34 L2070.24,1943.34 L2070.24,1943.34 L2073,1943.34 L2073,1935.06 L2075.76,1935.06 L2075.76,1943.34 L2078.52,1943.34 L2078.52,1943.34 L2081.28,1943.34 L2081.28,1946.1 L2084.04,1946.1 L2084.04,1940.58 L2086.8,1940.58 L2086.8,1940.58 L2089.56,1940.58 L2089.56,1937.82 L2092.32,1937.82 L2092.32,1937.82 L2095.08,1937.82 L2095.08,1937.82 L2097.84,1937.82 L2097.84,1937.82 L2100.6,1937.82 L2100.6,1943.34 L2103.36,1943.34 L2103.36,1940.58 L2106.12,1940.58 L2106.12,1946.1 L2108.88,1946.1 L2108.88,1937.82 L2111.64,1937.82 L2111.64,1946.1 L2114.4,1946.1 L2114.4,1943.34 L2117.16,1943.34 L2117.16,1940.58 L2119.92,1940.58 L2119.92,1940.58 L2122.68,1940.58 L2122.68,1940.58 L2125.44,1940.58 L2125.44,1940.58 L2128.2,1940.58 L2128.2,1943.34 L2130.96,1943.34 L2130.96,1935.06 L2133.72,1935.06 L2133.72,1935.06 L2136.48,1935.06 L2136.48,1940.58 L2139.24,1940.58 L2139.24,1935.06 L2142,1935.06 L2142,1937.82 L2144.76,1937.82 L2144.76,1937.82 L2147.52,1937.82 L2147.52,1937.82 L2150.28,1937.82 L2150.28,1937.82 L2153.04,1937.82 L2153.04,1943.34 L2155.8,1943.34 L2155.8,1935.06 L2158.56,1935.06 L2158.56,1943.34 L2161.32,1943.34 L2161.32,1935.06 L2164.08,1935.06" fill="none" stroke="#1a1a1a" stroke-width="3" stroke-linejoin="miter" filter="url(#tblur)"/>
<path d="M1718,1866 L1722.6,1850 L1724.5,1830 L1726,1772 L1729.6,1654 L1732.4,1556 L1735.2,1445 L1738.7,1335 L1741.1,1250 L1743.6,1194 L1746,1192 L1748,1211 L1749.8,1263.6 L1752.3,1354.2 L1755,1455.3 L1756.8,1563.3 L1759.6,1633 L1761,1688.7 L1763.8,1737.5 L1767.2,1775.8 L1777.7,1789.8 L1783,1814.1 L1789.9,1842 L1795.1,1873.4 L1800,1895.7" fill="none" stroke="#5a5a5a" stroke-width="3.4" stroke-linejoin="round"/>
<path d="M226.5,1156.3 H2165.6 V1991.3" fill="none" stroke="#8A8A8A" stroke-width="5"/>
<path d="M226.5,1153.8 V1991.3 H2168.1" fill="none" stroke="#4A4A4A" stroke-width="3.6"/>
<g stroke="#4A4A4A" stroke-width="3">
<path d="M220.5,1973.74 H226.5"/>
<path d="M220.5,1946.82 H226.5"/>
<path d="M220.5,1919.91 H226.5"/>
<path d="M216,1893 H226.5"/>
<path d="M220.5,1866.09 H226.5"/>
<path d="M220.5,1839.18 H226.5"/>
<path d="M220.5,1812.26 H226.5"/>
<path d="M220.5,1785.35 H226.5"/>
<path d="M216,1758.44 H226.5"/>
<path d="M220.5,1731.53 H226.5"/>
<path d="M220.5,1704.62 H226.5"/>
<path d="M220.5,1677.7 H226.5"/>
<path d="M220.5,1650.79 H226.5"/>
<path d="M216,1623.88 H226.5"/>
<path d="M220.5,1596.97 H226.5"/>
<path d="M220.5,1570.06 H226.5"/>
<path d="M220.5,1543.14 H226.5"/>
<path d="M220.5,1516.23 H226.5"/>
<path d="M216,1489.32 H226.5"/>
<path d="M220.5,1462.41 H226.5"/>
<path d="M220.5,1435.5 H226.5"/>
<path d="M220.5,1408.58 H226.5"/>
<path d="M220.5,1381.67 H226.5"/>
<path d="M216,1354.76 H226.5"/>
<path d="M220.5,1327.85 H226.5"/>
<path d="M220.5,1300.94 H226.5"/>
<path d="M220.5,1274.02 H226.5"/>
<path d="M220.5,1247.11 H226.5"/>
<path d="M216,1220.2 H226.5"/>
<path d="M220.5,1193.29 H226.5"/>
<path d="M220.5,1166.38 H226.5"/>
<path d="M261.46,1991.3 V1998.8"/>
<path d="M300.27,1991.3 V1998.8"/>
<path d="M339.07,1991.3 V1998.8"/>
<path d="M377.87,1991.3 V2008.3"/>
<path d="M416.68,1991.3 V1998.8"/>
<path d="M455.48,1991.3 V1998.8"/>
<path d="M494.28,1991.3 V1998.8"/>
<path d="M533.09,1991.3 V2008.3"/>
<path d="M571.89,1991.3 V1998.8"/>
<path d="M610.69,1991.3 V1998.8"/>
<path d="M649.5,1991.3 V1998.8"/>
<path d="M688.3,1991.3 V2008.3"/>
<path d="M727.11,1991.3 V1998.8"/>
<path d="M765.91,1991.3 V1998.8"/>
<path d="M804.71,1991.3 V1998.8"/>
<path d="M843.52,1991.3 V2008.3"/>
<path d="M882.32,1991.3 V1998.8"/>
<path d="M921.12,1991.3 V1998.8"/>
<path d="M959.93,1991.3 V1998.8"/>
<path d="M998.73,1991.3 V2008.3"/>
<path d="M1037.53,1991.3 V1998.8"/>
<path d="M1076.34,1991.3 V1998.8"/>
<path d="M1115.14,1991.3 V1998.8"/>
<path d="M1153.94,1991.3 V2008.3"/>
<path d="M1192.75,1991.3 V1998.8"/>
<path d="M1231.55,1991.3 V1998.8"/>
<path d="M1270.35,1991.3 V1998.8"/>
<path d="M1309.16,1991.3 V2008.3"/>
<path d="M1347.96,1991.3 V1998.8"/>
<path d="M1386.77,1991.3 V1998.8"/>
<path d="M1425.57,1991.3 V1998.8"/>
<path d="M1464.37,1991.3 V2008.3"/>
<path d="M1503.18,1991.3 V1998.8"/>
<path d="M1541.98,1991.3 V1998.8"/>
<path d="M1580.78,1991.3 V1998.8"/>
<path d="M1619.59,1991.3 V2008.3"/>
<path d="M1658.39,1991.3 V1998.8"/>
<path d="M1697.19,1991.3 V1998.8"/>
<path d="M1736,1991.3 V1998.8"/>
<path d="M1774.8,1991.3 V2008.3"/>
<path d="M1813.6,1991.3 V1998.8"/>
<path d="M1852.41,1991.3 V1998.8"/>
<path d="M1891.21,1991.3 V1998.8"/>
<path d="M1930.01,1991.3 V2008.3"/>
<path d="M1968.82,1991.3 V1998.8"/>
<path d="M2007.62,1991.3 V1998.8"/>
<path d="M2046.42,1991.3 V1998.8"/>
<path d="M2085.23,1991.3 V2008.3"/>
<path d="M2124.03,1991.3 V1998.8"/>
<path d="M2162.84,1991.3 V1998.8"/>
</g>
</g>
<text transform="translate(119.21,1227.49) scale(1,0.9692)" font-family="'Liberation Sans', Arial, sans-serif" font-weight="normal" font-size="33.08" fill="#1a1a1a">0.025</text>
<text transform="translate(122.12,1358.27) scale(1,1.0436)" font-family="'Liberation Sans', Arial, sans-serif" font-weight="normal" font-size="32.75" fill="#1a1a1a">0.020</text>
<text transform="translate(128.1,1498.78) scale(1,1.0009)" font-family="'Liberation Sans', Arial, sans-serif" font-weight="normal" font-size="33.16" fill="#1a1a1a">0.015</text>
<text transform="translate(131.71,1632.79) scale(1,0.9557)" font-family="'Liberation Sans', Arial, sans-serif" font-weight="normal" font-size="32.96" fill="#1a1a1a">0.010</text>
<text transform="translate(128.92,1769.37) scale(1,1.0238)" font-family="'Liberation Sans', Arial, sans-serif" font-weight="normal" font-size="32.83" fill="#1a1a1a">0.005</text>
<text transform="translate(131.71,1901.18) scale(1,0.9985)" font-family="'Liberation Sans', Arial, sans-serif" font-weight="normal" font-size="32.96" fill="#1a1a1a">0.000</text>
<text transform="translate(363.45,2059.42) scale(1,1.0104)" font-family="'Liberation Sans', Arial, sans-serif" font-weight="normal" font-size="38.72" fill="#1a1a1a">2.00</text>
<text transform="translate(526.53,2059.42) scale(1,1.0296)" font-family="'Liberation Sans', Arial, sans-serif" font-weight="normal" font-size="38" fill="#1a1a1a">4.00</text>
<text transform="translate(668.03,2059.42) scale(1,1.0060)" font-family="'Liberation Sans', Arial, sans-serif" font-weight="normal" font-size="38.89" fill="#1a1a1a">6.00</text>
<text transform="translate(831.2,2059.42) scale(1,1.0016)" font-family="'Liberation Sans', Arial, sans-serif" font-weight="normal" font-size="39.06" fill="#1a1a1a">8.00</text>
<text transform="translate(974.81,2059.42) scale(1,1.0297)" font-family="'Liberation Sans', Arial, sans-serif" font-weight="normal" font-size="37.99" fill="#1a1a1a">10.00</text>
<text transform="translate(1127.11,2059.42) scale(1,1.0297)" font-family="'Liberation Sans', Arial, sans-serif" font-weight="normal" font-size="37.99" fill="#1a1a1a">12.00</text>
<text transform="translate(1292.55,2059.42) scale(1,1.0470)" font-family="'Liberation Sans', Arial, sans-serif" font-weight="normal" font-size="37.37" fill="#1a1a1a">14.00</text>
<text transform="translate(1444.02,2059.42) scale(1,1.0331)" font-family="'Liberation Sans', Arial, sans-serif" font-weight="normal" font-size="37.87" fill="#1a1a1a">16.00</text>
<text transform="translate(1607.81,2059.42) scale(1,1.0309)" font-family="'Liberation Sans', Arial, sans-serif" font-weight="normal" font-size="37.95" fill="#1a1a1a">18.00</text>
<text transform="translate(1758.36,2059.42) scale(1,1.0130)" font-family="'Liberation Sans', Arial, sans-serif" font-weight="normal" font-size="38.62" fill="#1a1a1a">20.00</text>
<text transform="translate(1911.56,2059.42) scale(1,1.0130)" font-family="'Liberation Sans', Arial, sans-serif" font-weight="normal" font-size="38.62" fill="#1a1a1a">22.00</text>
<text transform="translate(2064.47,2059.42) scale(1,1.0206)" font-family="'Liberation Sans', Arial, sans-serif" font-weight="normal" font-size="38.33" fill="#1a1a1a">24.00</text>
<text x="1102.1" y="2119.1" font-family="'Liberation Sans', Arial, sans-serif" font-weight="bold" font-size="44.06" fill="#111">minutes</text>
<text x="1322.85" y="1272.3" font-family="'Liberation Sans', Arial, sans-serif" font-weight="bold" font-size="57.23" fill="#000">St Bet</text>
<text transform="translate(99.3,1887) rotate(-90)" x="-1.26" y="0" font-family="'Liberation Sans', Arial, sans-serif" font-weight="bold" font-size="50.5" letter-spacing="0.19" fill="#000">Absorbance (λ = 538 nm)</text>
<g>
<path d="M1630,2172 V2966.5" stroke="#C8161E" stroke-width="6.8" stroke-dasharray="28.5 22.3"/>
<path d="M1914.4,2172 V2966.5" stroke="#C8161E" stroke-width="6.8" stroke-dasharray="28.5 22.3"/>
<path d="M222,2923.2 L226,2923.22 L230,2923.23 L234,2923.25 L238,2923.27 L242,2923.29 L246,2923.3 L250,2923.32 L254,2923.34 L258,2923.35 L262,2923.37 L266,2923.39 L270,2923.41 L274,2923.42 L278,2923.44 L282,2923.46 L286,2923.48 L290,2923.49 L294,2923.51 L298,2923.53 L302,2923.54 L306,2923.56 L310,2923.58 L314,2923.6 L318,2923.61 L322,2923.63 L326,2923.65 L330,2923.66 L334,2923.68 L338,2923.7 L342,2923.72 L346,2923.73 L350,2923.75 L354,2923.77 L358,2923.78 L362,2923.8 L366,2923.82 L370,2923.84 L374,2923.85 L378,2923.87 L382,2923.89 L386,2923.91 L390,2923.92 L394,2923.94 L398,2923.96 L402,2923.97 L406,2923.99 L410,2924.01 L414,2924.03 L418,2924.04 L422,2924.06 L426,2924.08 L430,2924.09 L434,2924.11 L438,2924.13 L442,2924.15 L446,2924.16 L450,2924.18 L454,2924.2 L458,2924.21 L462,2924.23 L466,2924.25 L470,2924.27 L474,2924.28 L478,2924.3 L482,2924.32 L486,2924.34 L490,2924.35 L494,2924.37 L498,2924.39 L502,2924.4 L506,2924.42 L510,2924.44 L514,2924.46 L518,2924.47 L522,2924.49 L526,2924.51 L530,2924.52 L534,2924.54 L538,2924.56 L542,2924.58 L546,2924.59 L550,2924.61 L554,2924.63 L558,2924.64 L562,2924.66 L566,2924.68 L570,2924.7 L574,2924.71 L578,2924.73 L582,2924.75 L586,2924.76 L590,2924.78 L594,2924.8 L598,2924.82 L602,2924.83 L606,2924.85 L610,2924.87 L614,2924.89 L618,2924.9 L622,2924.92 L626,2924.94 L630,2924.95 L634,2924.97 L638,2924.99 L642,2925.01 L646,2925.02 L650,2925.04 L654,2925.06 L658,2925.07 L662,2925.09 L666,2925.11 L670,2925.13 L674,2925.14 L678,2925.16 L682,2925.18 L686,2925.19 L690,2925.21 L694,2925.23 L698,2925.25 L702,2925.26 L706,2925.28 L710,2925.3 L714,2925.32 L718,2925.33 L722,2925.35 L726,2925.37 L730,2925.38 L734,2925.4 L738,2925.42 L742,2925.44 L746,2925.45 L750,2925.47 L754,2925.49 L758,2925.5 L762,2925.52 L766,2925.54 L770,2925.56 L774,2925.57 L778,2925.59 L782,2925.61 L786,2925.62 L790,2925.64 L794,2925.66 L798,2925.68 L802,2925.69 L806,2925.71 L810,2925.73 L814,2925.75 L818,2925.76 L822,2925.78 L826,2925.8 L830,2925.81 L834,2925.83 L838,2925.85 L842,2925.87 L846,2925.88 L850,2925.9 L854,2925.9 L858,2925.9 L862,2925.9 L866,2925.91 L870,2925.91 L874,2925.91 L878,2925.91 L882,2925.91 L886,2925.91 L890,2925.91 L894,2925.91 L898,2925.92 L902,2925.92 L906,2925.92 L910,2925.92 L914,2925.92 L918,2925.92 L922,2925.92 L926,2925.93 L930,2925.93 L934,2925.93 L938,2925.93 L942,2925.93 L946,2925.93 L950,2925.93 L954,2925.93 L958,2925.94 L962,2925.94 L966,2925.94 L970,2925.94 L974,2925.94 L978,2925.94 L982,2925.94 L986,2925.95 L990,2925.95 L994,2925.95 L998,2925.95 L1002,2925.95 L1006,2925.95 L1010,2925.95 L1014,2925.95 L1018,2925.96 L1022,2925.96 L1026,2925.96 L1030,2925.96 L1034,2925.96 L1038,2925.96 L1042,2925.96 L1046,2925.97 L1050,2925.97 L1054,2925.97 L1058,2925.97 L1062,2925.97 L1066,2925.97 L1070,2925.97 L1074,2925.97 L1078,2925.98 L1082,2925.98 L1086,2925.98 L1090,2925.98 L1094,2925.98 L1098,2925.98 L1102,2925.98 L1106,2925.99 L1110,2925.99 L1114,2925.99 L1118,2925.99 L1122,2925.99 L1126,2925.99 L1130,2925.99 L1134,2925.99 L1138,2926 L1142,2926 L1146,2926 L1150,2926 L1154,2926 L1158,2926 L1162,2926 L1166,2926.01 L1170,2926.01 L1174,2926.01 L1178,2926.01 L1182,2926.01 L1186,2926.01 L1190,2926.01 L1194,2926.01 L1198,2926.02 L1202,2926.02 L1206,2926.02 L1210,2926.02 L1214,2926.02 L1218,2926.02 L1222,2926.02 L1226,2926.03 L1230,2926.03 L1234,2926.03 L1238,2926.03 L1242,2926.03 L1246,2926.03 L1250,2926.03 L1254,2926.03 L1258,2926.04 L1262,2926.04 L1266,2926.04 L1270,2926.04 L1274,2926.04 L1278,2926.04 L1282,2926.04 L1286,2926.05 L1290,2926.05 L1294,2926.05 L1298,2926.05 L1302,2926.05 L1306,2926.05 L1310,2926.05 L1314,2926.05 L1318,2926.06 L1322,2926.06 L1326,2926.06 L1330,2926.06 L1334,2926.06 L1338,2926.06 L1342,2926.06 L1346,2926.07 L1350,2926.07 L1354,2926.07 L1358,2926.07 L1362,2926.07 L1366,2926.07 L1370,2926.07 L1374,2926.07 L1378,2926.08 L1382,2926.08 L1386,2926.08 L1390,2926.08 L1394,2926.08 L1398,2926.08 L1402,2926.08 L1406,2926.09 L1410,2926.09 L1414,2926.09 L1418,2926.09 L1422,2926.09 L1426,2926.09 L1430,2926.09 L1434,2926.09 L1438,2926.1 L1442,2926.1 L1446,2926.1 L1450,2926.1 L1454,2926.12 L1458,2926.13 L1462,2926.15 L1466,2926.17 L1470,2926.18 L1474,2926.2 L1478,2926.22 L1482,2926.23 L1486,2926.25 L1490,2926.27 L1494,2926.29 L1498,2926.3 L1502,2926.32 L1506,2926.34 L1510,2926.35 L1514,2926.37 L1518,2926.39 L1522,2926.4 L1526,2926.42 L1530,2926.44 L1534,2926.45 L1538,2926.47 L1542,2926.49 L1546,2926.5 L1550,2926.52 L1554,2926.54 L1558,2926.55 L1562,2926.57 L1566,2926.59 L1570,2926.61 L1574,2926.62 L1578,2926.64 L1582,2926.66 L1586,2926.67 L1590,2926.69 L1594,2926.71 L1598,2926.72 L1602,2926.74 L1606,2926.76 L1610,2926.77 L1614,2926.79 L1618,2926.81 L1622,2926.82 L1626,2926.84 L1630,2926.86 L1634,2926.87 L1638,2926.89 L1642,2926.9 L1646,2926.9 L1650,2926.9 L1654,2926.9 L1658,2926.9 L1662,2926.9 L1666,2926.9 L1670,2926.9 L1674,2926.9 L1678,2926.9 L1680,2926.9" fill="none" stroke="#a8a8a8" stroke-width="2.8"/>
<path d="M222,2926 L226,2926.02 L230,2926.03 L234,2926.05 L238,2926.07 L242,2926.09 L246,2926.1 L250,2926.12 L254,2926.14 L258,2926.15 L262,2926.17 L266,2926.19 L270,2926.21 L274,2926.22 L278,2926.24 L282,2926.26 L286,2926.28 L290,2926.29 L294,2926.31 L298,2926.33 L302,2926.34 L306,2926.36 L310,2926.38 L314,2926.4 L318,2926.41 L322,2926.43 L326,2926.45 L330,2926.46 L334,2926.48 L338,2926.5 L342,2926.52 L346,2926.53 L350,2926.55 L354,2926.57 L358,2926.58 L362,2926.6 L366,2926.62 L370,2926.64 L374,2926.65 L378,2926.67 L382,2926.69 L386,2926.71 L390,2926.72 L394,2926.74 L398,2926.76 L402,2926.77 L406,2926.79 L410,2926.81 L414,2926.83 L418,2926.84 L422,2926.86 L426,2926.88 L430,2926.89 L434,2926.91 L438,2926.93 L442,2926.95 L446,2926.96 L450,2926.98 L454,2927 L458,2927.01 L462,2927.03 L466,2927.05 L470,2927.07 L474,2927.08 L478,2927.1 L482,2927.12 L486,2927.14 L490,2927.15 L494,2927.17 L498,2927.19 L502,2927.2 L506,2927.22 L510,2927.24 L514,2927.26 L518,2927.27 L522,2927.29 L526,2927.31 L530,2927.32 L534,2927.34 L538,2927.36 L542,2927.38 L546,2927.39 L550,2927.41 L554,2927.43 L558,2927.44 L562,2927.46 L566,2927.48 L570,2927.5 L574,2927.51 L578,2927.53 L582,2927.55 L586,2927.56 L590,2927.58 L594,2927.6 L598,2927.62 L602,2927.63 L606,2927.65 L610,2927.67 L614,2927.69 L618,2927.7 L622,2927.72 L626,2927.74 L630,2927.75 L634,2927.77 L638,2927.79 L642,2927.81 L646,2927.82 L650,2927.84 L654,2927.86 L658,2927.87 L662,2927.89 L666,2927.91 L670,2927.93 L674,2927.94 L678,2927.96 L682,2927.98 L686,2927.99 L690,2928.01 L694,2928.03 L698,2928.05 L702,2928.06 L706,2928.08 L710,2928.1 L714,2928.12 L718,2928.13 L722,2928.15 L726,2928.17 L730,2928.18 L734,2928.2 L738,2928.22 L742,2928.24 L746,2928.25 L750,2928.27 L754,2928.29 L758,2928.3 L762,2928.32 L766,2928.34 L770,2928.36 L774,2928.37 L778,2928.39 L782,2928.41 L786,2928.42 L790,2928.44 L794,2928.46 L798,2928.48 L802,2928.49 L806,2928.51 L810,2928.53 L814,2928.55 L818,2928.56 L822,2928.58 L826,2928.6 L830,2928.61 L834,2928.63 L838,2928.65 L842,2928.67 L846,2928.68 L850,2928.7 L854,2928.7 L858,2928.7 L862,2928.7 L866,2928.71 L870,2928.71 L874,2928.71 L878,2928.71 L882,2928.71 L886,2928.71 L890,2928.71 L894,2928.71 L898,2928.72 L902,2928.72 L906,2928.72 L910,2928.72 L914,2928.72 L918,2928.72 L922,2928.72 L926,2928.73 L930,2928.73 L934,2928.73 L938,2928.73 L942,2928.73 L946,2928.73 L950,2928.73 L954,2928.73 L958,2928.74 L962,2928.74 L966,2928.74 L970,2928.74 L974,2928.74 L978,2928.74 L982,2928.74 L986,2928.75 L990,2928.75 L994,2928.75 L998,2928.75 L1002,2928.75 L1006,2928.75 L1010,2928.75 L1014,2928.75 L1018,2928.76 L1022,2928.76 L1026,2928.76 L1030,2928.76 L1034,2928.76 L1038,2928.76 L1042,2928.76 L1046,2928.77 L1050,2928.77 L1054,2928.77 L1058,2928.77 L1062,2928.77 L1066,2928.77 L1070,2928.77 L1074,2928.77 L1078,2928.78 L1082,2928.78 L1086,2928.78 L1090,2928.78 L1094,2928.78 L1098,2928.78 L1102,2928.78 L1106,2928.79 L1110,2928.79 L1114,2928.79 L1118,2928.79 L1122,2928.79 L1126,2928.79 L1130,2928.79 L1134,2928.79 L1138,2928.8 L1142,2928.8 L1146,2928.8 L1150,2928.8 L1154,2928.8 L1158,2928.8 L1162,2928.8 L1166,2928.81 L1170,2928.81 L1174,2928.81 L1178,2928.81 L1182,2928.81 L1186,2928.81 L1190,2928.81 L1194,2928.81 L1198,2928.82 L1202,2928.82 L1206,2928.82 L1210,2928.82 L1214,2928.82 L1218,2928.82 L1222,2928.82 L1226,2928.83 L1230,2928.83 L1234,2928.83 L1238,2928.83 L1242,2928.83 L1246,2928.83 L1250,2928.83 L1254,2928.83 L1258,2928.84 L1262,2928.84 L1266,2928.84 L1270,2928.84 L1274,2928.84 L1278,2928.84 L1282,2928.84 L1286,2928.85 L1290,2928.85 L1294,2928.85 L1298,2928.85 L1302,2928.85 L1306,2928.85 L1310,2928.85 L1314,2928.85 L1318,2928.86 L1322,2928.86 L1326,2928.86 L1330,2928.86 L1334,2928.86 L1338,2928.86 L1342,2928.86 L1346,2928.87 L1350,2928.87 L1354,2928.87 L1358,2928.87 L1362,2928.87 L1366,2928.87 L1370,2928.87 L1374,2928.87 L1378,2928.88 L1382,2928.88 L1386,2928.88 L1390,2928.88 L1394,2928.88 L1398,2928.88 L1402,2928.88 L1406,2928.89 L1410,2928.89 L1414,2928.89 L1418,2928.89 L1422,2928.89 L1426,2928.89 L1430,2928.89 L1434,2928.89 L1438,2928.9 L1442,2928.9 L1446,2928.9 L1450,2928.9 L1454,2928.92 L1458,2928.93 L1462,2928.95 L1466,2928.97 L1470,2928.98 L1474,2929 L1478,2929.02 L1482,2929.03 L1486,2929.05 L1490,2929.07 L1494,2929.09 L1498,2929.1 L1502,2929.12 L1506,2929.14 L1510,2929.15 L1514,2929.17 L1518,2929.19 L1522,2929.2 L1526,2929.22 L1530,2929.24 L1534,2929.25 L1538,2929.27 L1542,2929.29 L1546,2929.3 L1550,2929.32 L1554,2929.34 L1558,2929.35 L1562,2929.37 L1566,2929.39 L1570,2929.41 L1574,2929.42 L1578,2929.44 L1582,2929.46 L1586,2929.47 L1590,2929.49 L1594,2929.51 L1598,2929.52 L1602,2929.54 L1606,2929.56 L1610,2929.57 L1614,2929.59 L1618,2929.61 L1622,2929.62 L1626,2929.64 L1630,2929.66 L1634,2929.67 L1638,2929.69 L1642,2929.7 L1646,2929.7 L1650,2929.7 L1654,2929.7 L1658,2929.7 L1662,2929.7 L1666,2929.7 L1670,2929.7 L1674,2929.7 L1678,2929.7 L1680,2929.7" fill="none" stroke="#3a3a3a" stroke-width="2.8"/>
<path d="M1862,2924.41 L1866,2924.45 L1870,2924.5 L1874,2924.54 L1878,2924.59 L1882,2924.63 L1886,2924.67 L1890,2924.72 L1894,2924.76 L1898,2924.8 L1902,2924.85 L1906,2924.89 L1910,2924.93 L1914,2924.98 L1918,2925.05 L1922,2925.16 L1926,2925.26 L1930,2925.36 L1934,2925.47 L1938,2925.57 L1942,2925.67 L1946,2925.78 L1950,2925.88 L1954,2925.99 L1958,2926.09 L1962,2926.19 L1966,2926.3 L1970,2926.4 L1974,2926.5 L1978,2926.6 L1982,2926.7 L1986,2926.8 L1990,2926.9 L1994,2927 L1998,2927.1 L2002,2927.2 L2006,2927.3 L2010,2927.4 L2014,2927.5 L2018,2927.6 L2022,2927.7 L2026,2927.8 L2030,2927.9 L2034,2928 L2038,2928.1 L2042,2928.2 L2046,2928.3 L2050,2928.4 L2054,2928.41 L2058,2928.41 L2062,2928.42 L2066,2928.43 L2070,2928.43 L2074,2928.44 L2078,2928.45 L2082,2928.46 L2086,2928.46 L2090,2928.47 L2094,2928.48 L2098,2928.48 L2102,2928.49 L2106,2928.5 L2110,2928.5 L2114,2928.51 L2118,2928.52 L2122,2928.52 L2126,2928.53 L2130,2928.54 L2134,2928.54 L2138,2928.55 L2142,2928.56 L2146,2928.57 L2150,2928.57 L2154,2928.58 L2158,2928.59 L2162,2928.59" fill="none" stroke="#a8a8a8" stroke-width="2.8"/>
<path d="M1862,2927.21 L1866,2927.25 L1870,2927.3 L1874,2927.34 L1878,2927.39 L1882,2927.43 L1886,2927.47 L1890,2927.52 L1894,2927.56 L1898,2927.6 L1902,2927.65 L1906,2927.69 L1910,2927.73 L1914,2927.78 L1918,2927.85 L1922,2927.96 L1926,2928.06 L1930,2928.16 L1934,2928.27 L1938,2928.37 L1942,2928.47 L1946,2928.58 L1950,2928.68 L1954,2928.79 L1958,2928.89 L1962,2928.99 L1966,2929.1 L1970,2929.2 L1974,2929.3 L1978,2929.4 L1982,2929.5 L1986,2929.6 L1990,2929.7 L1994,2929.8 L1998,2929.9 L2002,2930 L2006,2930.1 L2010,2930.2 L2014,2930.3 L2018,2930.4 L2022,2930.5 L2026,2930.6 L2030,2930.7 L2034,2930.8 L2038,2930.9 L2042,2931 L2046,2931.1 L2050,2931.2 L2054,2931.21 L2058,2931.21 L2062,2931.22 L2066,2931.23 L2070,2931.23 L2074,2931.24 L2078,2931.25 L2082,2931.26 L2086,2931.26 L2090,2931.27 L2094,2931.28 L2098,2931.28 L2102,2931.29 L2106,2931.3 L2110,2931.3 L2114,2931.31 L2118,2931.32 L2122,2931.32 L2126,2931.33 L2130,2931.34 L2134,2931.34 L2138,2931.35 L2142,2931.36 L2146,2931.37 L2150,2931.37 L2154,2931.38 L2158,2931.39 L2162,2931.39" fill="none" stroke="#3a3a3a" stroke-width="2.8"/>
<path d="M224,2926.81h5.6v2.7h-5.6z M249.2,2920.92h2.8v2.7h-2.8z M257.6,2926.95h2.8v2.7h-2.8z M268.8,2921h5.6v2.7h-5.6z M274.4,2927.03h5.6v2.7h-5.6z M296.8,2927.12h2.8v2.7h-2.8z M319.2,2927.22h2.8v2.7h-2.8z M338.8,2921.3h2.8v2.7h-2.8z M350,2921.35h5.6v2.7h-5.6z M355.6,2921.37h2.8v2.7h-2.8z M372.4,2927.45h2.8v2.7h-2.8z M392,2921.53h2.8v2.7h-2.8z M394.8,2927.54h2.8v2.7h-2.8z M408.8,2927.6h2.8v2.7h-2.8z M411.6,2921.62h2.8v2.7h-2.8z M420,2921.65h2.8v2.7h-2.8z M431.2,2921.7h5.6v2.7h-5.6z M436.8,2921.72h5.6v2.7h-5.6z M445.2,2921.76h2.8v2.7h-2.8z M453.6,2927.8h5.6v2.7h-5.6z M456.4,2927.81h2.8v2.7h-2.8z M464.8,2921.84h2.8v2.7h-2.8z M473.2,2921.88h2.8v2.7h-2.8z M478.8,2927.9h2.8v2.7h-2.8z M504,2922.01h2.8v2.7h-2.8z M520.8,2922.08h2.8v2.7h-2.8z M534.8,2922.14h2.8v2.7h-2.8z M557.2,2928.24h5.6v2.7h-5.6z M565.6,2922.28h5.6v2.7h-5.6z M571.2,2922.3h2.8v2.7h-2.8z M585.2,2928.36h2.8v2.7h-2.8z M610.4,2928.47h5.6v2.7h-5.6z M618.8,2928.51h2.8v2.7h-2.8z M627.2,2928.54h2.8v2.7h-2.8z M635.6,2928.58h2.8v2.7h-2.8z M716.8,2928.93h2.8v2.7h-2.8z M725.2,2922.96h2.8v2.7h-2.8z M736.4,2929.01h5.6v2.7h-5.6z M739.2,2923.02h2.8v2.7h-2.8z M742,2929.04h2.8v2.7h-2.8z M744.8,2929.05h5.6v2.7h-5.6z M753.2,2929.08h2.8v2.7h-2.8z M758.8,2923.11h2.8v2.7h-2.8z M781.2,2929.2h2.8v2.7h-2.8z M798,2923.28h2.8v2.7h-2.8z M806.4,2929.31h2.8v2.7h-2.8z M814.8,2929.35h2.8v2.7h-2.8z M820.4,2923.37h2.8v2.7h-2.8z M831.6,2929.42h2.8v2.7h-2.8z M848.4,2929.49h2.8v2.7h-2.8z M854,2929.5h2.8v2.7h-2.8z M859.6,2929.5h2.8v2.7h-2.8z M868,2929.51h5.6v2.7h-5.6z M876.4,2929.51h2.8v2.7h-2.8z M879.2,2923.51h2.8v2.7h-2.8z M887.6,2929.51h5.6v2.7h-5.6z M890.4,2929.51h2.8v2.7h-2.8z M912.8,2923.52h2.8v2.7h-2.8z M921.2,2923.52h5.6v2.7h-5.6z M938,2929.53h5.6v2.7h-5.6z M940.8,2923.53h2.8v2.7h-2.8z M957.6,2923.54h2.8v2.7h-2.8z M980,2923.54h2.8v2.7h-2.8z M991.2,2923.55h2.8v2.7h-2.8z M999.6,2929.55h5.6v2.7h-5.6z M1002.4,2923.55h2.8v2.7h-2.8z M1013.6,2923.55h2.8v2.7h-2.8z M1047.2,2929.57h5.6v2.7h-5.6z M1055.6,2923.57h5.6v2.7h-5.6z M1058.4,2929.57h2.8v2.7h-2.8z M1061.2,2929.57h2.8v2.7h-2.8z M1083.6,2923.58h2.8v2.7h-2.8z M1092,2929.58h2.8v2.7h-2.8z M1131.2,2923.59h2.8v2.7h-2.8z M1142.4,2923.6h2.8v2.7h-2.8z M1148,2929.6h2.8v2.7h-2.8z M1164.8,2929.6h5.6v2.7h-5.6z M1167.6,2929.61h2.8v2.7h-2.8z M1184.4,2929.61h2.8v2.7h-2.8z M1215.2,2929.62h2.8v2.7h-2.8z M1226.4,2923.63h2.8v2.7h-2.8z M1232,2923.63h2.8v2.7h-2.8z M1237.6,2929.63h5.6v2.7h-5.6z M1262.8,2923.64h2.8v2.7h-2.8z M1274,2923.64h2.8v2.7h-2.8z M1293.6,2923.65h2.8v2.7h-2.8z M1296.4,2923.65h2.8v2.7h-2.8z M1299.2,2923.65h2.8v2.7h-2.8z M1327.2,2923.66h2.8v2.7h-2.8z M1344,2929.66h2.8v2.7h-2.8z M1358,2923.67h2.8v2.7h-2.8z M1363.6,2929.67h2.8v2.7h-2.8z M1369.2,2923.67h2.8v2.7h-2.8z M1372,2923.67h5.6v2.7h-5.6z M1374.8,2923.67h5.6v2.7h-5.6z M1383.2,2923.68h2.8v2.7h-2.8z M1388.8,2923.68h2.8v2.7h-2.8z M1402.8,2929.68h2.8v2.7h-2.8z M1428,2929.69h2.8v2.7h-2.8z M1436.4,2929.7h2.8v2.7h-2.8z M1456,2929.73h5.6v2.7h-5.6z M1464.4,2929.76h5.6v2.7h-5.6z M1467.2,2929.77h2.8v2.7h-2.8z M1472.8,2929.8h2.8v2.7h-2.8z M1484,2923.84h2.8v2.7h-2.8z M1486.8,2923.85h2.8v2.7h-2.8z M1503.6,2929.93h2.8v2.7h-2.8z M1514.8,2929.97h2.8v2.7h-2.8z M1576.4,2930.23h5.6v2.7h-5.6z M1598.8,2930.33h2.8v2.7h-2.8z M1601.6,2930.34h5.6v2.7h-5.6z M1624,2930.43h5.6v2.7h-5.6z M1660.4,2930.5h2.8v2.7h-2.8z M1666,2930.5h2.8v2.7h-2.8z M1668.8,2924.5h2.8v2.7h-2.8z M1870.4,2922.1h2.8v2.7h-2.8z M1887.2,2922.29h2.8v2.7h-2.8z M1920.8,2928.72h2.8v2.7h-2.8z M1971.2,2924.03h2.8v2.7h-2.8z M1993.6,2924.59h2.8v2.7h-2.8z M2002,2930.8h5.6v2.7h-5.6z M2010.4,2925.01h5.6v2.7h-5.6z M2027.2,2931.43h2.8v2.7h-2.8z M2044,2931.85h5.6v2.7h-5.6z M2058,2932.01h2.8v2.7h-2.8z M2074.8,2926.04h5.6v2.7h-5.6z M2077.6,2932.05h2.8v2.7h-2.8z M2086,2926.06h2.8v2.7h-2.8z M2100,2932.09h2.8v2.7h-2.8z M2108.4,2932.1h2.8v2.7h-2.8z M2114,2932.11h2.8v2.7h-2.8z M2119.6,2932.12h5.6v2.7h-5.6z M2136.4,2926.15h5.6v2.7h-5.6z M2150.4,2926.17h2.8v2.7h-2.8z" fill="#333" opacity="0.8"/>
<path d="M1680,2929.5 L1685.3,2921 L1694.6,2910 L1700.2,2904.5 L1706,2904 L1709.5,2906.5 L1716,2908.5 L1720.6,2907 L1725.2,2886 L1728.9,2866.5 L1732.1,2827.6 L1735.1,2771.9 L1737.7,2692.1 L1740,2593.8 L1741,2540 L1742.9,2470 L1744.5,2380 L1745.6,2300 L1747.5,2240 L1750,2208 L1751.5,2206 L1753.5,2215 L1756,2250 L1757.7,2300 L1759.5,2380 L1761,2470 L1762.3,2540 L1763.3,2577.1 L1766,2671.7 L1768.8,2744.1 L1771.6,2797.9 L1774.4,2835 L1778.1,2870.2 L1783.7,2894.4 L1785.4,2895 L1793.6,2904.5 L1807.2,2912.7 L1820.8,2919.5 L1841.2,2923.5 L1862,2927" fill="none" stroke="#3c3c3c" stroke-width="2.8" stroke-linejoin="round"/>
<path d="M207.5,2923.2 H222" stroke="#a8a8a8" stroke-width="2.8"/>
<path d="M207.5,2926 H222" stroke="#3a3a3a" stroke-width="2.8"/>
<path d="M220.3,2169.4 H2167.3" fill="none" stroke="#B0B0B0" stroke-width="2.6"/>
<path d="M220.3,2172 H2165.8 V2966.5" fill="none" stroke="#444" stroke-width="3.2"/>
<path d="M220.3,2169.5 V2966.5 H2168.3" fill="none" stroke="#4A4A4A" stroke-width="3.6"/>
<g stroke="#4A4A4A" stroke-width="3">
<path d="M214.3,2964.5 H220.3"/>
<path d="M214.3,2944.75 H220.3"/>
<path d="M209.8,2925 H220.3"/>
<path d="M214.3,2905.25 H220.3"/>
<path d="M214.3,2885.5 H220.3"/>
<path d="M214.3,2865.75 H220.3"/>
<path d="M209.8,2846 H220.3"/>
<path d="M214.3,2826.25 H220.3"/>
<path d="M214.3,2806.5 H220.3"/>
<path d="M214.3,2786.75 H220.3"/>
<path d="M209.8,2767 H220.3"/>
<path d="M214.3,2747.25 H220.3"/>
<path d="M214.3,2727.5 H220.3"/>
<path d="M214.3,2707.75 H220.3"/>
<path d="M209.8,2688 H220.3"/>
<path d="M214.3,2668.25 H220.3"/>
<path d="M214.3,2648.5 H220.3"/>
<path d="M214.3,2628.75 H220.3"/>
<path d="M209.8,2609 H220.3"/>
<path d="M214.3,2589.25 H220.3"/>
<path d="M214.3,2569.5 H220.3"/>
<path d="M214.3,2549.75 H220.3"/>
<path d="M209.8,2530 H220.3"/>
<path d="M214.3,2510.25 H220.3"/>
<path d="M214.3,2490.5 H220.3"/>
<path d="M214.3,2470.75 H220.3"/>
<path d="M209.8,2451 H220.3"/>
<path d="M214.3,2431.25 H220.3"/>
<path d="M214.3,2411.5 H220.3"/>
<path d="M214.3,2391.75 H220.3"/>
<path d="M209.8,2372 H220.3"/>
<path d="M214.3,2352.25 H220.3"/>
<path d="M214.3,2332.5 H220.3"/>
<path d="M214.3,2312.75 H220.3"/>
<path d="M209.8,2293 H220.3"/>
<path d="M214.3,2273.25 H220.3"/>
<path d="M214.3,2253.5 H220.3"/>
<path d="M214.3,2233.75 H220.3"/>
<path d="M209.8,2214 H220.3"/>
<path d="M214.3,2194.25 H220.3"/>
<path d="M256.14,2966.5 V2974"/>
<path d="M295.08,2966.5 V2974"/>
<path d="M334.02,2966.5 V2974"/>
<path d="M372.97,2966.5 V2983.5"/>
<path d="M411.91,2966.5 V2974"/>
<path d="M450.85,2966.5 V2974"/>
<path d="M489.79,2966.5 V2974"/>
<path d="M528.73,2966.5 V2983.5"/>
<path d="M567.67,2966.5 V2974"/>
<path d="M606.62,2966.5 V2974"/>
<path d="M645.56,2966.5 V2974"/>
<path d="M684.5,2966.5 V2983.5"/>
<path d="M723.44,2966.5 V2974"/>
<path d="M762.38,2966.5 V2974"/>
<path d="M801.32,2966.5 V2974"/>
<path d="M840.26,2966.5 V2983.5"/>
<path d="M879.21,2966.5 V2974"/>
<path d="M918.15,2966.5 V2974"/>
<path d="M957.09,2966.5 V2974"/>
<path d="M996.03,2966.5 V2983.5"/>
<path d="M1034.97,2966.5 V2974"/>
<path d="M1073.91,2966.5 V2974"/>
<path d="M1112.85,2966.5 V2974"/>
<path d="M1151.8,2966.5 V2983.5"/>
<path d="M1190.74,2966.5 V2974"/>
<path d="M1229.68,2966.5 V2974"/>
<path d="M1268.62,2966.5 V2974"/>
<path d="M1307.56,2966.5 V2983.5"/>
<path d="M1346.5,2966.5 V2974"/>
<path d="M1385.44,2966.5 V2974"/>
<path d="M1424.39,2966.5 V2974"/>
<path d="M1463.33,2966.5 V2983.5"/>
<path d="M1502.27,2966.5 V2974"/>
<path d="M1541.21,2966.5 V2974"/>
<path d="M1580.15,2966.5 V2974"/>
<path d="M1619.09,2966.5 V2983.5"/>
<path d="M1658.04,2966.5 V2974"/>
<path d="M1696.98,2966.5 V2974"/>
<path d="M1735.92,2966.5 V2974"/>
<path d="M1774.86,2966.5 V2983.5"/>
<path d="M1813.8,2966.5 V2974"/>
<path d="M1852.74,2966.5 V2974"/>
<path d="M1891.68,2966.5 V2974"/>
<path d="M1930.63,2966.5 V2983.5"/>
<path d="M1969.57,2966.5 V2974"/>
<path d="M2008.51,2966.5 V2974"/>
<path d="M2047.45,2966.5 V2974"/>
<path d="M2086.39,2966.5 V2983.5"/>
<path d="M2125.33,2966.5 V2974"/>
<path d="M2164.27,2966.5 V2974"/>
</g>
</g>
<text transform="translate(137.71,2224.78) scale(1,1.0042)" font-family="'Liberation Sans', Arial, sans-serif" font-weight="normal" font-size="33.05" fill="#1a1a1a">0.18</text>
<text transform="translate(137.71,2301.78) scale(1,0.9826)" font-family="'Liberation Sans', Arial, sans-serif" font-weight="normal" font-size="33.06" fill="#1a1a1a">0.16</text>
<text transform="translate(137.72,2379.28) scale(1,0.9903)" font-family="'Liberation Sans', Arial, sans-serif" font-weight="normal" font-size="32.8" fill="#1a1a1a">0.14</text>
<text transform="translate(135.87,2457.68) scale(1,0.9560)" font-family="'Liberation Sans', Arial, sans-serif" font-weight="normal" font-size="33.98" fill="#1a1a1a">0.12</text>
<text transform="translate(137.71,2535.98) scale(1,0.9809)" font-family="'Liberation Sans', Arial, sans-serif" font-weight="normal" font-size="32.97" fill="#1a1a1a">0.10</text>
<text transform="translate(139.92,2619.9) scale(1,0.9490)" font-family="'Liberation Sans', Arial, sans-serif" font-weight="normal" font-size="32.89" fill="#1a1a1a">0.08</text>
<text transform="translate(142.63,2699.18) scale(1,0.9972)" font-family="'Liberation Sans', Arial, sans-serif" font-weight="normal" font-size="32.58" fill="#1a1a1a">0.06</text>
<text transform="translate(142.64,2777.48) scale(1,1.0007)" font-family="'Liberation Sans', Arial, sans-serif" font-weight="normal" font-size="32.32" fill="#1a1a1a">0.04</text>
<text transform="translate(139.4,2855.88) scale(1,0.9761)" font-family="'Liberation Sans', Arial, sans-serif" font-weight="normal" font-size="33.28" fill="#1a1a1a">0.02</text>
<text transform="translate(134.73,2933.49) scale(1,0.9808)" font-family="'Liberation Sans', Arial, sans-serif" font-weight="normal" font-size="32.55" fill="#1a1a1a">0.00</text>
<text transform="translate(340.49,3033.12) scale(1,1.0142)" font-family="'Liberation Sans', Arial, sans-serif" font-weight="normal" font-size="38.02" fill="#1a1a1a">2.00</text>
<text transform="translate(503.73,3033.12) scale(1,1.0133)" font-family="'Liberation Sans', Arial, sans-serif" font-weight="normal" font-size="38.05" fill="#1a1a1a">4.00</text>
<text transform="translate(644.74,3033.12) scale(1,0.9984)" font-family="'Liberation Sans', Arial, sans-serif" font-weight="normal" font-size="38.62" fill="#1a1a1a">6.00</text>
<text transform="translate(808.52,3033.12) scale(1,0.9954)" font-family="'Liberation Sans', Arial, sans-serif" font-weight="normal" font-size="38.74" fill="#1a1a1a">8.00</text>
<text transform="translate(951.47,3033.12) scale(1,1.0038)" font-family="'Liberation Sans', Arial, sans-serif" font-weight="normal" font-size="38.41" fill="#1a1a1a">10.00</text>
<text transform="translate(1104.32,3033.12) scale(1,1.0182)" font-family="'Liberation Sans', Arial, sans-serif" font-weight="normal" font-size="37.87" fill="#1a1a1a">12.00</text>
<text transform="translate(1267.47,3033.12) scale(1,1.0038)" font-family="'Liberation Sans', Arial, sans-serif" font-weight="normal" font-size="38.41" fill="#1a1a1a">14.00</text>
<text transform="translate(1419.75,3033.12) scale(1,0.9940)" font-family="'Liberation Sans', Arial, sans-serif" font-weight="normal" font-size="38.79" fill="#1a1a1a">16.00</text>
<text transform="translate(1583.79,3033.12) scale(1,1.0104)" font-family="'Liberation Sans', Arial, sans-serif" font-weight="normal" font-size="38.16" fill="#1a1a1a">18.00</text>
<text transform="translate(1734.75,3033.12) scale(1,0.9941)" font-family="'Liberation Sans', Arial, sans-serif" font-weight="normal" font-size="38.79" fill="#1a1a1a">20.00</text>
<text transform="translate(1887.73,3033.12) scale(1,0.9836)" font-family="'Liberation Sans', Arial, sans-serif" font-weight="normal" font-size="39.2" fill="#1a1a1a">22.00</text>
<text transform="translate(2040.23,3033.12) scale(1,0.9836)" font-family="'Liberation Sans', Arial, sans-serif" font-weight="normal" font-size="39.2" fill="#1a1a1a">24.00</text>
<text x="1021.08" y="3099.4" font-family="'Liberation Sans', Arial, sans-serif" font-weight="bold" font-size="46.5" fill="#111" letter-spacing="1.76">Time (minutes)</text>
<text x="1319.87" y="2278.4" font-family="'Liberation Sans', Arial, sans-serif" font-weight="bold" font-size="58.7" fill="#000">BR Ext</text>
<text transform="translate(104.3,2881.6) rotate(-90)" x="-1.28" y="0" font-family="'Liberation Sans', Arial, sans-serif" font-weight="bold" font-size="51.5" letter-spacing="-0.36" fill="#000">Absorbance (λ = 538 nm)</text>
</g>
</svg>
</body></html>
